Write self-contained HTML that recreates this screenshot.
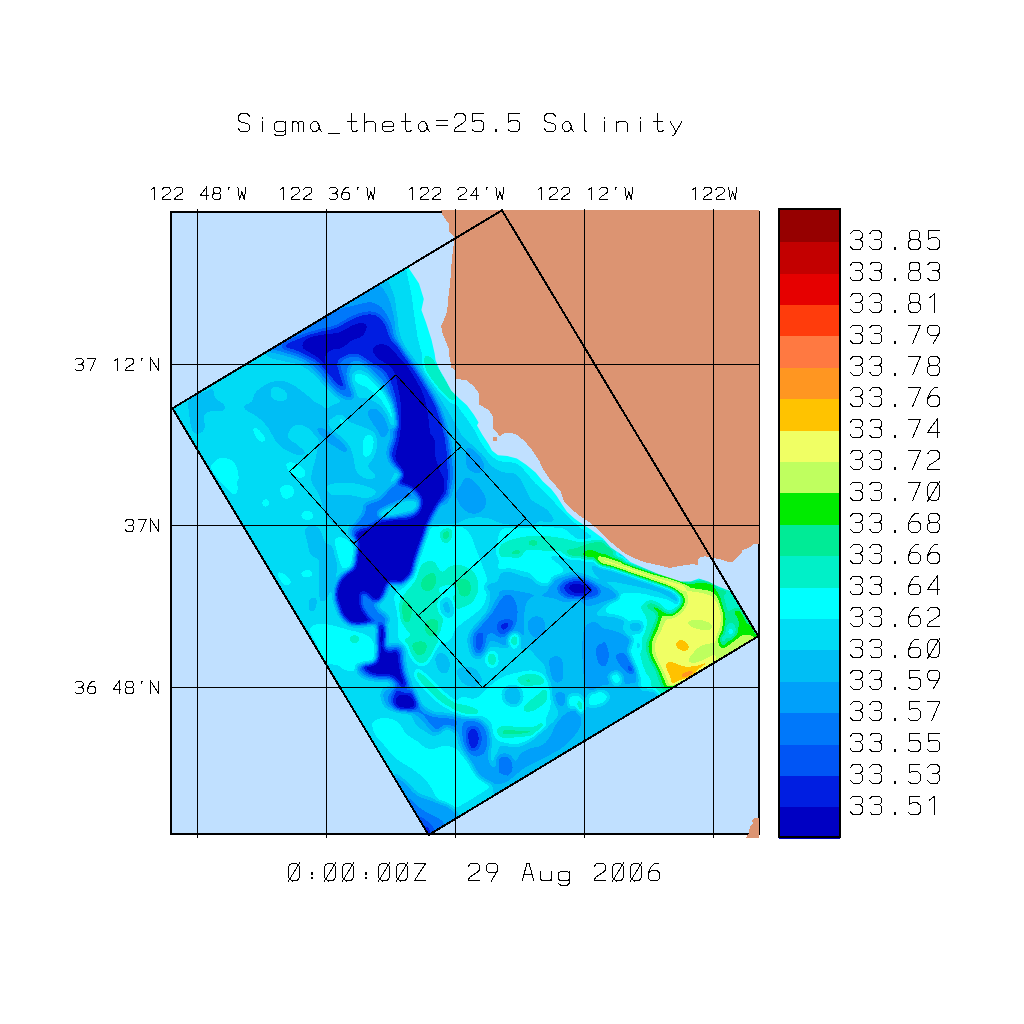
<!DOCTYPE html>
<html><head><meta charset="utf-8"><title>Sigma_theta=25.5 Salinity</title>
<style>html,body{margin:0;padding:0;background:#fff;font-family:"Liberation Sans",sans-serif}svg{display:block}</style></head><body>
<svg width="1024" height="1024" viewBox="0 0 1024 1024" shape-rendering="crispEdges">
<defs>
<filter id="cf" filterUnits="userSpaceOnUse" x="120" y="160" width="700" height="720" color-interpolation-filters="sRGB">
<feGaussianBlur stdDeviation="2.2"/>
<feComponentTransfer><feFuncR type="discrete" tableValues="0.0000 0.0000 0.0000 0.0000 0.0000 0.0000 0.0000 0.0000 0.0000 0.0000 0.0000 0.7490 0.9412 1.0000 1.0000 1.0000 1.0000 0.9020 0.7647 0.5882"/><feFuncG type="discrete" tableValues="0.0000 0.1176 0.3333 0.4706 0.6275 0.7451 0.8627 1.0000 0.9412 0.9216 0.9216 1.0000 1.0000 0.7647 0.5882 0.4745 0.2353 0.0000 0.0000 0.0000"/><feFuncB type="discrete" tableValues="0.7647 0.8824 0.9608 0.9804 0.9804 0.9608 0.9608 1.0000 0.7843 0.5882 0.0000 0.3725 0.3922 0.0000 0.1294 0.2549 0.0471 0.0000 0.0000 0.0000"/></feComponentTransfer>
</filter>
<clipPath id="dc"><path d="M172.5 408.3 L408.0 267.0 L419.0 283.4 L423.8 299.0 L421.4 310.0 L426.0 322.5 L431.5 339.7 L434.7 353.8 L435.5 360.0 L439.5 369.4 L445.8 380.3 L451.2 390.5 L459.8 399.0 L466.9 405.3 L473.9 414.7 L478.6 422.5 L477.0 425.6 L482.5 435.0 L488.8 444.4 L491.9 450.6 L498.0 455.3 L507.5 456.0 L516.9 458.4 L526.2 464.7 L535.6 472.5 L542.7 481.2 L551.2 489.0 L556.7 496.0 L562.2 504.7 L566.9 511.7 L574.7 518.8 L582.5 524.2 L591.2 529.8 L603.0 538.6 L610.8 547.4 L622.5 555.2 L630.3 562.0 L644.0 567.9 L657.7 573.8 L669.4 577.7 L681.0 581.6 L690.9 581.6 L698.7 578.6 L708.4 581.6 L716.2 585.5 L726.0 589.4 L731.9 591.3 L758.3 636.2 L428.6 835.0 Z"/></clipPath>
<clipPath id="fr"><rect x="170" y="210" width="590" height="628"/></clipPath>
</defs>
<rect width="1024" height="1024" fill="#fff"/>
<rect x="171" y="212" width="588" height="622" fill="#c0e0ff"/>
<g clip-path="url(#dc)"><g filter="url(#cf)">
<rect x="120" y="160" width="700" height="720" fill="#535353"/>
<path d="M272.0 388.9 C273.3 387.6 277.3 386.0 279.8 387.0 C282.2 387.9 285.6 392.5 286.6 394.8 C287.6 397.0 287.1 400.0 285.6 400.6 C284.2 401.3 280.1 399.6 277.8 398.7 C275.5 397.7 272.9 396.4 272.0 394.8 C271.0 393.1 270.7 390.2 272.0 388.9 Z" fill="#606060"/>
<path d="M189.5 397.7 C192.1 393.4 201.2 393.4 205.2 391.8 C209.1 390.2 211.3 386.9 213.0 387.9 C214.6 388.9 213.0 394.7 214.9 397.7 C216.9 400.6 223.4 403.2 224.7 405.5 C226.0 407.7 225.3 410.4 222.7 411.3 C220.1 412.3 212.3 410.4 209.1 411.3 C205.8 412.3 203.9 414.6 203.2 417.2 C202.6 419.8 205.5 424.3 205.2 427.0 C204.8 429.6 203.2 431.8 201.2 432.8 C199.3 433.8 195.4 435.4 193.4 432.8 C191.5 430.2 190.2 423.0 189.5 417.2 C188.9 411.3 186.9 401.9 189.5 397.7 Z" fill="#464646"/>
<path d="M242.3 406.4 C242.9 404.8 249.8 404.0 252.0 401.6 C254.3 399.1 252.7 395.1 255.9 391.8 C259.2 388.5 266.4 383.7 271.6 382.0 C276.8 380.4 282.0 380.4 287.2 382.0 C292.4 383.7 298.3 388.5 302.8 391.8 C307.4 395.1 310.6 398.6 314.5 401.6 C318.4 404.5 324.3 405.5 326.2 409.4 C328.2 413.3 324.6 420.4 326.2 425.0 C327.9 429.6 332.8 433.5 336.0 436.7 C339.3 440.0 343.8 441.6 345.8 444.5 C347.7 447.5 349.0 452.7 347.7 454.3 C346.4 455.9 341.5 455.9 338.0 454.3 C334.4 452.7 329.8 447.5 326.2 444.5 C322.7 441.6 319.7 439.6 316.5 436.7 C313.2 433.8 310.3 428.9 306.7 427.0 C303.1 425.0 298.3 423.4 295.0 425.0 C291.7 426.6 286.9 433.5 287.2 436.7 C287.5 440.0 293.7 441.6 297.0 444.5 C300.2 447.5 307.0 452.7 306.7 454.3 C306.4 455.9 298.9 455.3 295.0 454.3 C291.1 453.3 286.5 450.7 283.3 448.4 C280.0 446.2 278.1 444.2 275.5 440.6 C272.9 437.0 270.6 430.9 267.7 427.0 C264.7 423.0 261.1 419.8 257.9 417.2 C254.6 414.6 250.7 413.1 248.1 411.3 C245.5 409.5 241.6 408.1 242.3 406.4 Z" fill="#464646"/>
<path d="M270.6 391.8 C271.1 390.0 273.0 386.9 275.5 386.9 C277.9 386.9 283.3 389.8 285.2 391.8 C287.2 393.8 288.2 397.2 287.2 398.6 C286.2 400.1 281.8 400.7 279.4 400.6 C276.9 400.4 274.0 399.1 272.5 397.7 C271.1 396.2 270.1 393.6 270.6 391.8 Z" fill="#575757"/>
<path d="M252.0 427.0 C252.4 425.7 255.6 427.0 257.9 428.9 C260.2 430.9 265.1 436.4 265.7 438.7 C266.4 441.0 263.4 442.9 261.8 442.6 C260.2 442.3 257.6 439.3 255.9 436.7 C254.3 434.1 251.7 428.3 252.0 427.0 Z" fill="#606060"/>
<path d="M214.9 460.2 C216.5 458.1 225.0 457.6 228.6 458.6 C232.2 459.6 234.8 462.3 236.4 466.0 C238.0 469.7 239.3 478.9 238.4 480.7 C237.4 482.5 233.8 478.4 230.5 476.8 C227.3 475.1 221.4 473.7 218.8 470.9 C216.2 468.1 213.3 462.2 214.9 460.2 Z" fill="#606060"/>
<path d="M435.2 436.1 C438.5 430.2 453.5 433.5 460.6 436.1 C467.8 438.7 471.7 446.5 478.2 451.7 C484.7 456.9 492.9 462.8 499.7 467.3 C506.5 471.9 513.4 474.5 519.2 479.1 C525.1 483.6 532.2 486.5 534.8 494.7 C537.4 502.8 540.1 523.0 534.8 527.9 C529.6 532.8 511.4 525.6 503.6 524.0 C495.8 522.4 493.8 519.1 488.0 518.1 C482.1 517.1 473.6 517.1 468.4 518.1 C463.2 519.1 461.3 522.7 456.7 524.0 C452.2 525.3 445.7 525.9 441.1 525.9 C436.5 525.9 430.0 527.2 429.4 524.0 C428.7 520.7 434.6 511.9 437.2 506.4 C439.8 500.9 444.3 496.6 445.0 490.8 C445.7 484.9 442.7 480.4 441.1 471.2 C439.5 462.1 432.0 442.0 435.2 436.1 Z" fill="#464646"/>
<path d="M454.8 481.0 C456.7 477.4 463.9 475.5 468.4 477.1 C473.0 478.7 479.2 486.2 482.1 490.8 C485.0 495.3 487.0 500.5 486.0 504.5 C485.0 508.4 479.8 513.2 476.2 514.2 C472.7 515.2 467.8 512.9 464.5 510.3 C461.3 507.7 458.3 503.5 456.7 498.6 C455.1 493.7 452.8 484.6 454.8 481.0 Z" fill="#393939"/>
<path d="M460.6 449.8 C461.3 446.2 468.4 445.5 472.3 447.8 C476.2 450.1 482.8 459.2 484.1 463.4 C485.4 467.7 482.8 472.2 480.2 473.2 C477.6 474.2 471.7 473.2 468.4 469.3 C465.2 465.4 460.0 453.3 460.6 449.8 Z" fill="#393939"/>
<path d="M429.4 525.9 C434.6 524.3 450.2 525.0 456.7 525.9 C463.2 526.9 465.2 527.9 468.4 531.8 C471.7 535.7 474.0 543.8 476.2 549.4 C478.5 554.9 480.2 559.1 482.1 565.0 C484.1 570.9 487.6 578.0 488.0 584.5 C488.3 591.0 486.7 598.9 484.1 604.1 C481.5 609.3 476.9 611.9 472.3 615.8 C467.8 619.7 461.3 622.9 456.7 627.5 C452.2 632.1 454.1 640.5 445.0 643.1 C435.9 645.7 409.8 647.7 402.0 643.1 C394.2 638.6 399.4 623.6 398.1 615.8 C396.8 608.0 393.6 600.8 394.2 596.2 C394.9 591.7 399.1 591.7 402.0 588.4 C405.0 585.2 408.9 582.6 411.8 576.7 C414.7 570.9 417.3 560.1 419.6 553.3 C421.9 546.4 423.8 540.3 425.5 535.7 C427.1 531.1 424.2 527.6 429.4 525.9 Z" fill="#606060"/>
<path d="M421.6 565.0 C424.5 561.7 430.0 559.8 433.3 561.1 C436.5 562.4 438.5 571.8 441.1 572.8 C443.7 573.8 445.7 568.3 448.9 567.0 C452.2 565.7 456.4 564.0 460.6 565.0 C464.9 566.0 471.4 568.9 474.3 572.8 C477.2 576.7 478.5 583.6 478.2 588.4 C477.9 593.3 475.3 598.9 472.3 602.1 C469.4 605.4 464.9 605.7 460.6 608.0 C456.4 610.2 450.5 612.5 447.0 615.8 C443.4 619.0 442.1 624.2 439.1 627.5 C436.2 630.8 433.9 634.0 429.4 635.3 C424.8 636.6 416.4 637.9 411.8 635.3 C407.2 632.7 404.0 624.9 402.0 619.7 C400.1 614.5 399.4 608.6 400.1 604.1 C400.7 599.5 403.3 596.2 405.9 592.3 C408.5 588.4 413.1 585.2 415.7 580.6 C418.3 576.1 418.6 568.3 421.6 565.0 Z" fill="#6c6c6c"/>
<path d="M426.4 574.8 C428.7 573.0 432.6 571.5 434.3 572.8 C435.9 574.1 436.7 579.6 436.2 582.6 C435.7 585.5 433.4 589.1 431.3 590.4 C429.2 591.7 425.3 591.5 423.5 590.4 C421.7 589.3 420.1 586.2 420.6 583.6 C421.1 581.0 424.2 576.6 426.4 574.8 Z" fill="#797979"/>
<path d="M457.7 579.6 C459.5 578.3 465.2 578.2 467.5 579.6 C469.7 581.1 471.4 585.7 471.4 588.4 C471.4 591.2 469.4 595.1 467.5 596.2 C465.5 597.4 461.4 596.7 459.6 595.3 C457.9 593.8 457.0 590.1 456.7 587.5 C456.4 584.9 455.9 581.0 457.7 579.6 Z" fill="#797979"/>
<path d="M402.0 602.1 C403.0 598.9 406.3 598.5 407.9 600.2 C409.5 601.8 411.8 608.0 411.8 611.9 C411.8 615.8 409.5 622.3 407.9 623.6 C406.3 624.9 403.0 623.3 402.0 619.7 C401.1 616.1 401.1 605.4 402.0 602.1 Z" fill="#797979"/>
<path d="M425.5 621.6 C427.4 619.7 434.9 618.1 437.2 619.7 C439.5 621.3 440.1 628.5 439.1 631.4 C438.2 634.3 433.6 637.3 431.3 637.3 C429.0 637.3 426.4 634.0 425.5 631.4 C424.5 628.8 423.5 623.6 425.5 621.6 Z" fill="#797979"/>
<path d="M441.1 533.8 C441.7 531.5 447.3 528.5 448.9 528.9 C450.5 529.2 451.5 533.4 450.9 535.7 C450.2 538.0 446.6 542.9 445.0 542.5 C443.4 542.2 440.4 536.0 441.1 533.8 Z" fill="#797979"/>
<path d="M491.9 588.4 C495.1 584.5 502.3 587.1 507.5 588.4 C512.7 589.7 520.5 587.1 523.1 596.2 C525.7 605.4 531.6 635.3 523.1 643.1 C514.7 650.9 480.2 645.7 472.3 643.1 C464.5 640.5 473.6 632.7 476.2 627.5 C478.9 622.3 485.4 618.4 488.0 611.9 C490.6 605.4 488.6 592.3 491.9 588.4 Z" fill="#464646"/>
<path d="M329.8 440.0 C332.0 438.4 342.5 438.0 345.4 440.0 C348.3 442.0 348.3 449.1 347.3 451.7 C346.4 454.3 342.1 456.0 339.5 455.6 C336.9 455.3 333.3 452.4 331.7 449.8 C330.1 447.2 327.5 441.6 329.8 440.0 Z" fill="#464646"/>
<path d="M355.2 467.3 C357.1 464.4 363.9 461.8 368.8 461.5 C373.7 461.2 382.2 462.5 384.5 465.4 C386.7 468.3 385.1 476.1 382.5 479.1 C379.9 482.0 373.1 483.0 368.8 483.0 C364.6 483.0 359.4 481.7 357.1 479.1 C354.8 476.5 353.2 470.3 355.2 467.3 Z" fill="#464646"/>
<path d="M331.7 504.5 C334.0 502.2 341.8 498.6 347.3 498.6 C352.9 498.6 360.7 501.8 364.9 504.5 C369.2 507.1 373.7 511.9 372.7 514.2 C371.8 516.5 363.9 517.8 359.1 518.1 C354.2 518.5 347.7 517.1 343.4 516.2 C339.2 515.2 335.6 514.2 333.7 512.3 C331.7 510.3 329.4 506.7 331.7 504.5 Z" fill="#464646"/>
<path d="M359.1 440.0 C362.0 438.0 374.4 438.0 378.6 440.0 C382.8 442.0 384.5 447.5 384.5 451.7 C384.5 456.0 381.5 463.8 378.6 465.4 C375.7 467.0 369.8 463.8 366.9 461.5 C363.9 459.2 362.3 455.3 361.0 451.7 C359.7 448.1 356.1 442.0 359.1 440.0 Z" fill="#606060"/>
<path d="M323.9 484.9 C326.5 482.8 336.0 481.7 343.4 482.0 C350.9 482.3 364.3 485.1 368.8 486.9 C373.4 488.7 374.0 491.1 370.8 492.7 C367.5 494.4 356.5 496.3 349.3 496.6 C342.1 497.0 332.0 496.6 327.8 494.7 C323.6 492.7 321.3 487.0 323.9 484.9 Z" fill="#606060"/>
<path d="M335.6 537.7 C336.9 535.4 342.5 539.6 345.4 541.6 C348.3 543.5 352.2 546.1 353.2 549.4 C354.2 552.6 352.9 558.5 351.2 561.1 C349.6 563.7 345.7 566.0 343.4 565.0 C341.2 564.0 338.9 559.8 337.6 555.2 C336.3 550.7 334.3 539.9 335.6 537.7 Z" fill="#606060"/>
<path d="M320.0 549.4 C322.0 540.3 328.8 544.2 331.7 545.5 C334.6 546.8 336.9 552.0 337.6 557.2 C338.2 562.4 337.3 570.2 335.6 576.7 C334.0 583.2 330.4 592.3 327.8 596.2 C325.2 600.2 321.3 608.0 320.0 600.2 C318.7 592.3 318.0 558.5 320.0 549.4 Z" fill="#464646"/>
<path d="M529.3 477.1 C530.3 476.5 536.1 478.4 539.1 481.0 C542.0 483.6 546.5 490.8 546.9 492.7 C547.2 494.7 543.3 494.0 541.0 492.7 C538.7 491.4 535.2 487.5 533.2 484.9 C531.2 482.3 528.3 477.8 529.3 477.1 Z" fill="#6c6c6c"/>
<path d="M498.0 473.2 C501.0 468.8 510.1 470.3 515.6 472.2 C521.2 474.2 526.4 480.2 531.2 484.9 C536.1 489.6 540.7 495.3 544.9 500.5 C549.2 505.8 555.3 512.6 556.6 516.2 C557.9 519.8 556.3 521.4 552.7 522.0 C549.2 522.7 540.7 521.4 535.2 520.1 C529.6 518.8 524.1 516.8 519.5 514.2 C515.0 511.6 511.4 507.1 507.8 504.5 C504.2 501.8 499.7 503.8 498.0 498.6 C496.4 493.4 495.1 477.6 498.0 473.2 Z" fill="#464646"/>
<path d="M500.0 531.8 C503.3 525.9 509.8 526.6 519.5 525.9 C529.3 525.3 548.2 526.9 558.6 527.9 C569.0 528.9 574.9 529.2 582.0 531.8 C589.2 534.4 595.7 539.6 601.6 543.5 C607.4 547.4 617.8 552.3 617.2 555.2 C616.5 558.2 606.4 560.8 597.7 561.1 C588.9 561.4 575.8 558.2 564.5 557.2 C553.1 556.2 540.0 554.6 529.3 555.2 C518.6 555.9 504.9 565.0 500.0 561.1 C495.1 557.2 496.7 537.7 500.0 531.8 Z" fill="#606060"/>
<path d="M500.0 545.5 C503.3 542.2 513.0 539.3 519.5 537.7 C526.0 536.0 532.6 535.7 539.1 535.7 C545.6 535.7 552.1 536.7 558.6 537.7 C565.1 538.6 572.6 541.2 578.1 541.6 C583.7 541.9 587.2 539.3 591.8 539.6 C596.4 539.9 601.2 541.2 605.5 543.5 C609.7 545.8 617.8 551.0 617.2 553.3 C616.5 555.6 607.1 556.5 601.6 557.2 C596.0 557.8 590.2 558.2 584.0 557.2 C577.8 556.2 570.3 552.3 564.5 551.3 C558.6 550.4 554.7 551.7 548.8 551.3 C543.0 551.0 535.5 548.7 529.3 549.4 C523.1 550.0 516.6 553.9 511.7 555.2 C506.8 556.5 502.0 558.8 500.0 557.2 C498.0 555.6 496.7 548.7 500.0 545.5 Z" fill="#6c6c6c"/>
<path d="M564.5 551.3 C565.8 549.7 573.6 549.0 578.1 547.4 C582.7 545.8 587.9 542.9 591.8 541.6 C595.7 540.3 598.6 539.0 601.6 539.6 C604.5 540.3 606.8 543.2 609.4 545.5 C612.0 547.7 618.5 551.7 617.2 553.3 C615.9 554.9 607.1 554.6 601.6 555.2 C596.0 555.9 589.2 556.9 584.0 557.2 C578.8 557.5 573.6 558.2 570.3 557.2 C567.1 556.2 563.2 553.0 564.5 551.3 Z" fill="#797979"/>
<path d="M510.7 551.7 C512.2 550.7 518.7 549.8 520.5 550.4 C522.3 550.9 522.9 554.3 521.5 555.2 C520.0 556.2 513.5 556.8 511.7 556.2 C509.9 555.6 509.3 552.7 510.7 551.7 Z" fill="#797979"/>
<path d="M529.3 541.2 C530.6 540.6 535.8 540.6 537.1 541.2 C538.4 541.7 538.4 543.9 537.1 544.5 C535.8 545.0 530.6 545.0 529.3 544.5 C528.0 543.9 528.0 541.7 529.3 541.2 Z" fill="#808080"/>
<path d="M584.0 551.3 C585.9 550.4 590.8 549.7 593.8 550.4 C596.7 551.0 597.7 554.1 601.6 555.2 C605.5 556.4 613.3 556.2 617.2 557.2 C621.1 558.2 626.3 560.3 625.0 561.1 C623.7 561.9 614.6 562.4 609.4 562.1 C604.2 561.7 597.7 559.6 593.8 559.1 C589.8 558.7 587.9 559.6 585.9 559.1 C584.0 558.7 582.4 557.5 582.0 556.2 C581.7 554.9 582.0 552.3 584.0 551.3 Z" fill="#868686"/>
<path d="M500.0 561.1 C503.3 558.8 513.0 558.2 519.5 557.2 C526.0 556.2 533.2 554.6 539.1 555.2 C544.9 555.9 550.5 558.2 554.7 561.1 C558.9 564.0 565.4 570.2 564.5 572.8 C563.5 575.4 554.7 576.7 548.8 576.7 C543.0 576.7 535.5 574.1 529.3 572.8 C523.1 571.5 516.6 569.2 511.7 568.9 C506.8 568.6 502.0 572.2 500.0 570.9 C498.0 569.6 496.7 563.4 500.0 561.1 Z" fill="#606060"/>
<path d="M500.0 574.8 C503.9 563.7 516.3 575.7 523.4 576.7 C530.6 577.7 537.1 580.6 543.0 580.6 C548.8 580.6 552.7 578.0 558.6 576.7 C564.5 575.4 571.6 572.2 578.1 572.8 C584.6 573.5 591.8 578.0 597.7 580.6 C603.5 583.2 611.3 584.9 613.3 588.4 C615.2 592.0 612.6 597.6 609.4 602.1 C606.1 606.7 598.3 608.9 593.8 615.8 C589.2 622.6 597.7 638.6 582.0 643.1 C566.4 647.7 513.7 654.5 500.0 643.1 C486.3 631.7 496.1 585.8 500.0 574.8 Z" fill="#464646"/>
<path d="M500.0 588.4 C502.6 578.7 510.4 583.9 515.6 584.5 C520.8 585.2 526.4 591.4 531.2 592.3 C536.1 593.3 540.4 593.0 544.9 590.4 C549.5 587.8 553.1 579.3 558.6 576.7 C564.1 574.1 571.6 573.8 578.1 574.8 C584.6 575.7 592.4 580.0 597.7 582.6 C602.9 585.2 608.1 587.5 609.4 590.4 C610.7 593.3 608.7 597.6 605.5 600.2 C602.2 602.8 596.4 605.0 589.8 606.0 C583.3 607.0 571.6 604.4 566.4 606.0 C561.2 607.6 561.2 612.2 558.6 615.8 C556.0 619.4 554.0 624.2 550.8 627.5 C547.5 630.8 544.3 632.7 539.1 635.3 C533.9 637.9 526.0 641.8 519.5 643.1 C513.0 644.4 503.3 652.2 500.0 643.1 C496.7 634.0 497.4 598.2 500.0 588.4 Z" fill="#393939"/>
<path d="M503.9 596.2 C506.2 593.6 512.7 591.0 515.6 592.3 C518.6 593.6 521.2 600.2 521.5 604.1 C521.8 608.0 519.9 613.8 517.6 615.8 C515.3 617.7 510.4 617.1 507.8 615.8 C505.2 614.5 502.6 611.2 502.0 608.0 C501.3 604.7 501.6 598.9 503.9 596.2 Z" fill="#2d2d2d"/>
<path d="M533.2 615.8 C535.2 613.8 540.7 612.5 543.0 613.8 C545.2 615.1 547.5 620.7 546.9 623.6 C546.2 626.5 541.7 631.1 539.1 631.4 C536.5 631.7 532.2 628.2 531.2 625.5 C530.3 622.9 531.2 617.7 533.2 615.8 Z" fill="#2d2d2d"/>
<path d="M558.6 588.4 C559.2 586.2 562.5 582.3 566.4 580.6 C570.3 579.0 576.8 577.4 582.0 578.7 C587.2 580.0 594.7 585.8 597.7 588.4 C600.6 591.0 601.6 592.7 599.6 594.3 C597.7 595.9 590.8 597.6 585.9 598.2 C581.1 598.9 574.2 598.9 570.3 598.2 C566.4 597.6 564.5 595.9 562.5 594.3 C560.5 592.7 557.9 590.7 558.6 588.4 Z" fill="#1a1a1a"/>
<path d="M567.4 586.5 C567.7 584.7 571.5 582.9 574.2 582.6 C577.0 582.3 581.5 583.4 584.0 584.5 C586.4 585.7 589.2 587.8 588.9 589.4 C588.5 591.0 584.8 593.6 582.0 594.3 C579.3 594.9 574.7 594.6 572.3 593.3 C569.8 592.0 567.1 588.3 567.4 586.5 Z" fill="#060606"/>
<path d="M496.1 619.7 C498.0 617.2 504.9 618.1 507.8 618.7 C510.7 619.4 513.7 621.5 513.7 623.6 C513.7 625.7 510.7 629.8 507.8 631.4 C504.9 633.0 498.0 635.3 496.1 633.4 C494.1 631.4 494.1 622.1 496.1 619.7 Z" fill="#131313"/>
<path d="M529.3 565.0 C531.6 563.0 541.0 561.7 544.9 563.0 C548.8 564.3 552.1 569.2 552.7 572.8 C553.4 576.4 551.4 582.9 548.8 584.5 C546.2 586.2 540.0 584.2 537.1 582.6 C534.2 581.0 532.6 577.7 531.2 574.8 C529.9 571.8 527.0 567.0 529.3 565.0 Z" fill="#606060"/>
<path d="M591.8 565.0 C593.8 563.4 601.9 565.3 609.4 567.0 C616.9 568.6 628.3 572.2 636.7 574.8 C645.2 577.4 654.0 579.6 660.2 582.6 C666.3 585.5 671.9 589.7 673.8 592.3 C675.8 594.9 674.8 598.5 671.9 598.2 C668.9 597.9 662.1 592.7 656.2 590.4 C650.4 588.1 643.2 586.2 636.7 584.5 C630.2 582.9 623.7 581.9 617.2 580.6 C610.7 579.3 601.9 579.3 597.7 576.7 C593.4 574.1 589.8 566.6 591.8 565.0 Z" fill="#464646"/>
<path d="M617.2 596.2 C619.1 594.3 630.2 594.0 636.7 594.3 C643.2 594.6 650.4 596.9 656.2 598.2 C662.1 599.5 668.6 600.5 671.9 602.1 C675.1 603.7 676.4 606.3 675.8 608.0 C675.1 609.6 672.5 611.9 668.0 611.9 C663.4 611.9 655.6 608.9 648.4 608.0 C641.3 607.0 630.2 608.0 625.0 606.0 C619.8 604.1 615.2 598.2 617.2 596.2 Z" fill="#6c6c6c"/>
<path d="M605.5 606.0 C607.7 604.4 615.9 603.7 621.1 604.1 C626.3 604.4 634.4 606.0 636.7 608.0 C639.0 609.9 638.0 614.5 634.8 615.8 C631.5 617.1 621.7 616.1 617.2 615.8 C612.6 615.5 609.4 615.5 607.4 613.8 C605.5 612.2 603.2 607.6 605.5 606.0 Z" fill="#606060"/>
<path d="M587.9 619.7 C590.2 617.7 598.6 616.4 601.6 617.7 C604.5 619.0 606.1 624.9 605.5 627.5 C604.8 630.1 600.6 633.0 597.7 633.4 C594.7 633.7 589.5 631.7 587.9 629.5 C586.3 627.2 585.6 621.6 587.9 619.7 Z" fill="#464646"/>
<path d="M628.9 621.6 C630.5 619.7 637.7 618.7 640.6 619.7 C643.6 620.7 646.5 624.9 646.5 627.5 C646.5 630.1 643.2 634.7 640.6 635.3 C638.0 636.0 632.8 633.7 630.9 631.4 C628.9 629.1 627.3 623.6 628.9 621.6 Z" fill="#464646"/>
<path d="M595.7 556.8 C597.7 557.3 604.2 557.8 609.4 559.1 C614.6 560.5 620.4 562.7 627.0 565.0 C633.5 567.3 641.9 570.2 648.4 572.8 C654.9 575.4 660.2 578.0 666.0 580.6 C671.9 583.2 677.4 585.8 683.6 588.4 C689.8 591.0 699.9 597.6 703.1 596.2 C706.4 594.9 705.7 582.9 703.1 580.6 C700.5 578.3 692.7 583.2 687.5 582.6 C682.3 581.9 677.1 578.3 671.9 576.7 C666.7 575.1 662.1 574.4 656.2 572.8 C650.4 571.2 643.2 568.9 636.7 567.0 C630.2 565.0 623.7 562.9 617.2 561.1 C610.7 559.3 601.2 556.9 597.7 556.2 C594.1 555.5 593.8 556.3 595.7 556.8 Z" fill="#939393"/>
<path d="M600.0 569.7 C602.6 568.6 609.1 571.2 615.6 572.8 C622.1 574.4 631.8 577.0 639.1 579.1 C646.4 581.1 653.4 583.0 659.4 585.3 C665.4 587.7 671.6 590.5 675.0 593.1 C678.4 595.7 679.7 599.4 679.7 600.9 C679.7 602.5 677.3 603.5 675.0 602.5 C672.7 601.5 669.5 596.8 665.6 594.7 C661.7 592.6 657.3 591.6 651.6 590.0 C645.8 588.4 637.2 586.6 631.2 585.3 C625.3 584.0 620.8 583.2 615.6 582.2 C610.4 581.1 602.6 581.1 600.0 579.1 C597.4 577.0 597.4 570.7 600.0 569.7 Z" fill="#464646"/>
<path d="M600.0 586.9 C601.6 585.3 606.2 587.1 609.4 588.4 C612.5 589.7 617.7 592.3 618.8 594.7 C619.8 597.0 617.7 601.5 615.6 602.5 C613.5 603.5 608.9 601.7 606.2 600.9 C603.6 600.2 601.0 600.2 600.0 597.8 C599.0 595.5 598.4 588.4 600.0 586.9 Z" fill="#393939"/>
<path d="M623.4 602.5 C625.5 600.9 633.9 598.1 639.1 597.8 C644.3 597.6 649.5 599.6 654.7 600.9 C659.9 602.2 666.9 604.1 670.3 605.6 C673.7 607.2 675.3 609.0 675.0 610.3 C674.7 611.6 672.1 613.7 668.8 613.4 C665.4 613.2 659.6 610.1 654.7 608.8 C649.7 607.4 643.8 605.9 639.1 605.6 C634.4 605.4 629.2 607.7 626.6 607.2 C624.0 606.7 621.4 604.1 623.4 602.5 Z" fill="#606060"/>
<path d="M628.1 624.4 C629.2 622.6 635.0 620.7 637.5 621.2 C640.0 621.8 642.7 625.4 643.0 627.5 C643.2 629.6 641.0 633.0 639.1 633.8 C637.1 634.5 633.1 633.8 631.2 632.2 C629.4 630.6 627.1 626.2 628.1 624.4 Z" fill="#464646"/>
<path d="M596.9 633.8 C599.5 629.1 607.8 634.8 612.5 636.9 C617.2 639.0 620.8 643.1 625.0 646.2 C629.2 649.4 634.6 652.0 637.5 655.6 C640.4 659.3 641.9 664.0 642.2 668.1 C642.4 672.3 640.9 677.5 639.1 680.6 C637.2 683.8 634.6 686.4 631.2 686.9 C627.9 687.4 622.4 685.8 618.8 683.8 C615.1 681.7 613.0 677.5 609.4 674.4 C605.7 671.2 599.0 671.8 596.9 665.0 C594.8 658.2 594.3 638.4 596.9 633.8 Z" fill="#393939"/>
<path d="M614.1 652.5 C615.6 650.9 621.4 652.5 625.0 654.1 C628.6 655.6 633.9 658.8 635.9 661.9 C638.0 665.0 638.3 670.2 637.5 672.8 C636.7 675.4 633.9 677.5 631.2 677.5 C628.6 677.5 624.5 675.2 621.9 672.8 C619.3 670.5 616.9 666.8 615.6 663.4 C614.3 660.1 612.5 654.1 614.1 652.5 Z" fill="#2d2d2d"/>
<path d="M627.8 666.9 C628.4 666.2 630.9 666.2 631.6 666.9 C632.2 667.6 632.2 670.3 631.6 670.9 C630.9 671.6 628.4 671.6 627.8 670.9 C627.2 670.3 627.2 667.6 627.8 666.9 Z" fill="#131313"/>
<path d="M643.8 672.8 C644.9 671.2 648.4 669.4 650.0 671.2 C651.6 673.1 652.9 679.6 653.1 683.8 C653.4 687.9 652.9 694.7 651.6 696.2 C650.3 697.8 646.7 695.7 645.3 693.1 C643.9 690.5 643.2 684.0 643.0 680.6 C642.7 677.2 642.6 674.4 643.8 672.8 Z" fill="#606060"/>
<path d="M372.7 722.0 C374.4 719.4 380.2 718.1 384.5 718.1 C388.7 718.1 394.5 719.4 398.1 722.0 C401.7 724.6 402.7 730.5 405.9 733.8 C409.2 737.0 413.8 739.0 417.7 741.6 C421.6 744.2 424.8 748.7 429.4 749.4 C433.9 750.0 440.4 745.5 445.0 745.5 C449.6 745.5 452.8 746.8 456.7 749.4 C460.6 752.0 464.5 756.5 468.4 761.1 C472.3 765.7 476.2 772.8 480.2 776.7 C484.1 780.6 492.5 781.3 491.9 784.5 C491.2 787.8 482.1 792.3 476.2 796.2 C470.4 800.2 461.9 804.7 456.7 808.0 C451.5 811.2 448.3 817.1 445.0 815.8 C441.7 814.5 439.8 805.4 437.2 800.2 C434.6 794.9 432.6 789.1 429.4 784.5 C426.1 780.0 421.6 776.1 417.7 772.8 C413.8 769.6 409.8 767.6 405.9 765.0 C402.0 762.4 397.8 760.4 394.2 757.2 C390.6 753.9 387.7 749.4 384.5 745.5 C381.2 741.6 376.6 737.7 374.7 733.8 C372.7 729.8 371.1 724.6 372.7 722.0 Z" fill="#606060"/>
<path d="M331.7 651.7 C333.7 649.8 342.8 648.5 347.3 649.8 C351.9 651.1 357.8 656.0 359.1 659.5 C360.4 663.1 357.8 669.6 355.2 671.2 C352.6 672.9 346.7 670.9 343.4 669.3 C340.2 667.7 337.6 664.4 335.6 661.5 C333.7 658.6 329.8 653.7 331.7 651.7 Z" fill="#606060"/>
<path d="M405.9 638.0 C410.8 636.4 432.3 636.1 437.2 638.0 C442.1 640.0 436.5 646.2 435.2 649.8 C433.9 653.3 431.7 656.9 429.4 659.5 C427.1 662.1 424.5 665.7 421.6 665.4 C418.6 665.1 414.1 660.5 411.8 657.6 C409.5 654.6 408.9 651.1 407.9 647.8 C406.9 644.6 401.1 639.7 405.9 638.0 Z" fill="#6c6c6c"/>
<path d="M411.8 643.9 C413.1 641.6 423.2 640.7 425.5 642.0 C427.7 643.3 426.8 649.4 425.5 651.7 C424.2 654.0 419.9 656.9 417.7 655.6 C415.4 654.3 410.5 646.2 411.8 643.9 Z" fill="#797979"/>
<path d="M417.7 669.3 C419.9 669.6 425.5 675.5 429.4 679.1 C433.3 682.6 436.5 686.9 441.1 690.8 C445.7 694.7 451.5 699.6 456.7 702.5 C461.9 705.4 468.4 706.4 472.3 708.4 C476.2 710.3 480.8 712.9 480.2 714.2 C479.5 715.5 473.0 716.8 468.4 716.2 C463.9 715.5 458.0 712.9 452.8 710.3 C447.6 707.7 441.7 704.1 437.2 700.5 C432.6 697.0 429.0 692.7 425.5 688.8 C421.9 684.9 417.0 680.4 415.7 677.1 C414.4 673.9 415.4 669.0 417.7 669.3 Z" fill="#6c6c6c"/>
<path d="M462.6 707.4 C463.7 706.6 468.9 706.7 470.4 707.4 C471.9 708.0 472.5 710.5 471.4 711.3 C470.2 712.0 465.0 712.5 463.6 711.9 C462.1 711.2 461.4 708.1 462.6 707.4 Z" fill="#818181"/>
<path d="M497.7 729.8 C499.2 728.5 503.6 727.1 507.5 726.9 C511.4 726.8 518.9 727.4 521.2 728.9 C523.5 730.3 523.5 734.4 521.2 735.7 C518.9 737.0 511.2 736.8 507.5 736.7 C503.8 736.5 500.3 735.9 498.7 734.7 C497.1 733.6 496.3 731.1 497.7 729.8 Z" fill="#797979"/>
<path d="M435.2 655.6 C436.2 652.7 442.6 652.4 445.0 653.7 C447.4 655.0 449.6 660.2 449.9 663.4 C450.2 666.7 448.7 671.9 447.0 673.2 C445.2 674.5 441.1 674.2 439.1 671.2 C437.2 668.3 434.3 658.6 435.2 655.6 Z" fill="#464646"/>
<path d="M456.7 669.3 C458.3 666.7 468.1 665.7 472.3 667.3 C476.6 669.0 481.5 675.8 482.1 679.1 C482.8 682.3 479.5 686.2 476.2 686.9 C473.0 687.5 465.8 685.9 462.6 683.0 C459.3 680.0 455.1 671.9 456.7 669.3 Z" fill="#464646"/>
<path d="M473.3 638.0 C474.5 635.9 481.5 636.4 483.1 638.0 C484.7 639.7 484.2 645.7 483.1 647.8 C481.9 649.9 477.9 652.4 476.2 650.7 C474.6 649.1 472.2 640.2 473.3 638.0 Z" fill="#202020"/>
<path d="M411.8 712.3 C413.4 711.0 421.2 713.9 425.5 716.2 C429.7 718.5 435.6 722.7 437.2 725.9 C438.8 729.2 437.2 734.7 435.2 735.7 C433.3 736.7 428.7 733.8 425.5 731.8 C422.2 729.8 418.0 727.2 415.7 724.0 C413.4 720.7 410.2 713.6 411.8 712.3 Z" fill="#464646"/>
<path d="M382.5 690.8 C384.8 687.7 392.9 686.2 398.1 685.9 C403.3 685.6 410.2 686.1 413.8 688.8 C417.3 691.6 416.7 698.6 419.6 702.5 C422.5 706.4 427.1 710.3 431.3 712.3 C435.6 714.2 440.8 713.6 445.0 714.2 C449.2 714.9 452.5 714.9 456.7 716.2 C461.0 717.5 465.8 719.4 470.4 722.0 C474.9 724.6 481.0 727.7 484.1 731.8 C487.2 735.9 489.9 742.7 488.9 746.4 C488.0 750.2 482.1 753.8 478.2 754.3 C474.3 754.7 468.6 752.5 465.5 749.4 C462.4 746.3 462.7 739.3 459.6 735.7 C456.6 732.1 450.7 728.2 447.0 727.9 C443.2 727.6 440.3 733.8 437.2 733.8 C434.1 733.8 431.2 730.5 428.4 727.9 C425.6 725.3 423.7 720.7 420.6 718.1 C417.5 715.5 414.2 713.6 409.8 712.3 C405.4 711.0 398.5 711.6 394.2 710.3 C390.0 709.0 386.4 707.7 384.5 704.5 C382.5 701.2 380.2 693.9 382.5 690.8 Z" fill="#393939"/>
<path d="M388.4 694.7 C390.0 692.7 394.4 691.1 398.1 690.8 C401.9 690.5 407.7 690.3 410.8 692.7 C413.9 695.2 413.6 701.7 416.7 705.4 C419.8 709.2 424.7 713.2 429.4 715.2 C434.1 717.1 440.4 716.5 445.0 717.1 C449.6 717.8 452.8 717.8 456.7 719.1 C460.6 720.4 464.4 722.4 468.4 725.0 C472.5 727.6 478.4 731.3 481.1 734.7 C483.9 738.1 485.9 742.9 485.0 745.5 C484.2 748.1 479.2 750.2 476.2 750.4 C473.3 750.5 469.9 749.4 467.5 746.4 C465.0 743.5 465.0 736.4 461.6 732.8 C458.2 729.2 451.0 725.4 447.0 725.0 C442.9 724.5 440.0 730.2 437.2 730.2 C434.4 730.2 432.8 727.5 430.4 725.0 C427.9 722.5 426.0 717.9 422.5 715.2 C419.1 712.5 414.4 710.1 409.8 708.8 C405.3 707.4 398.8 708.4 395.2 707.4 C391.6 706.3 389.5 704.6 388.4 702.5 C387.2 700.4 386.7 696.6 388.4 694.7 Z" fill="#2d2d2d"/>
<path d="M468.4 731.8 C469.9 729.7 474.3 727.9 476.2 728.9 C478.2 729.8 479.8 734.7 480.2 737.7 C480.5 740.6 479.7 744.7 478.2 746.4 C476.7 748.2 473.2 749.2 471.4 748.4 C469.6 747.6 467.9 744.3 467.5 741.6 C467.0 738.8 467.0 733.9 468.4 731.8 Z" fill="#131313"/>
<path d="M398.1 683.0 C400.7 680.7 405.3 683.0 407.9 684.9 C410.5 686.9 412.1 691.1 413.8 694.7 C415.4 698.3 418.6 703.6 417.7 706.4 C416.7 709.2 411.5 711.0 407.9 711.3 C404.3 711.6 398.8 710.5 396.2 708.4 C393.6 706.2 391.9 702.8 392.3 698.6 C392.6 694.4 395.5 685.2 398.1 683.0 Z" fill="#131313"/>
<path d="M394.2 702.5 C394.2 700.4 396.2 697.1 398.1 695.7 C400.1 694.2 403.3 693.2 405.9 693.7 C408.5 694.2 412.1 696.5 413.8 698.6 C415.4 700.7 416.7 704.6 415.7 706.4 C414.7 708.2 410.8 709.0 407.9 709.3 C405.0 709.7 400.4 709.5 398.1 708.4 C395.8 707.2 394.2 704.6 394.2 702.5 Z" fill="#060606"/>
<path d="M357.1 665.4 C358.1 662.1 363.3 658.2 366.9 655.6 C370.5 653.0 375.0 651.4 378.6 649.8 C382.2 648.1 384.5 646.5 388.4 645.9 C392.3 645.2 399.4 643.6 402.0 645.9 C404.6 648.1 403.3 655.3 404.0 659.5 C404.6 663.8 405.0 667.3 405.9 671.2 C406.9 675.2 409.5 679.4 409.8 683.0 C410.2 686.5 409.8 691.8 407.9 692.7 C405.9 693.7 401.1 690.8 398.1 688.8 C395.2 686.9 392.9 682.5 390.3 681.0 C387.7 679.6 385.8 680.4 382.5 680.0 C379.2 679.7 374.4 679.9 370.8 679.1 C367.2 678.2 363.3 677.4 361.0 675.2 C358.7 672.9 356.1 668.6 357.1 665.4 Z" fill="#2d2d2d"/>
<path d="M363.0 665.4 C363.5 663.4 366.4 661.5 368.8 659.5 C371.3 657.6 376.1 657.3 377.6 653.7 C379.2 650.1 377.0 640.7 378.2 638.0 C379.4 635.4 383.5 635.9 384.8 638.0 C386.2 640.2 384.2 648.8 386.4 650.7 C388.6 652.7 395.8 648.3 398.1 649.8 C400.4 651.2 399.4 656.0 400.1 659.5 C400.7 663.1 401.1 667.3 402.0 671.2 C403.0 675.2 405.6 680.0 405.9 683.0 C406.3 685.9 405.3 688.8 404.0 688.8 C402.7 688.8 400.1 684.9 398.1 683.0 C396.2 681.0 394.9 678.2 392.3 677.1 C389.7 676.0 385.8 676.5 382.5 676.1 C379.2 675.8 375.5 676.0 372.7 675.2 C370.0 674.3 367.5 672.9 365.9 671.2 C364.3 669.6 362.5 667.3 363.0 665.4 Z" fill="#060606"/>
<path d="M495.8 757.2 C497.4 754.3 503.9 753.3 507.5 753.3 C511.1 753.3 516.0 754.6 517.3 757.2 C518.6 759.8 517.3 765.7 515.3 768.9 C513.4 772.2 508.5 776.4 505.5 776.7 C502.6 777.0 499.4 774.1 497.7 770.9 C496.1 767.6 494.2 760.1 495.8 757.2 Z" fill="#2d2d2d"/>
<path d="M501.6 763.0 C502.5 761.7 506.4 761.1 507.5 762.1 C508.6 763.0 509.3 767.6 508.5 768.9 C507.7 770.2 503.8 770.9 502.6 769.9 C501.5 768.9 500.8 764.3 501.6 763.0 Z" fill="#202020"/>
<path d="M394.2 774.8 C395.5 772.5 402.0 779.3 405.9 782.6 C409.8 785.8 413.4 791.5 417.7 794.3 C421.9 797.1 425.5 796.9 431.3 799.2 C437.2 801.5 448.6 803.9 452.8 808.0 C457.0 812.0 460.6 818.1 456.7 823.6 C452.8 829.1 435.9 838.9 429.4 841.2 C422.9 843.5 422.9 844.8 417.7 837.3 C412.4 829.8 402.0 806.7 398.1 796.2 C394.2 785.8 392.9 777.0 394.2 774.8 Z" fill="#393939"/>
<path d="M405.9 796.2 C406.9 794.6 413.8 803.1 417.7 806.0 C421.6 808.9 425.5 811.5 429.4 813.8 C433.3 816.1 438.5 817.4 441.1 819.7 C443.7 822.0 447.0 824.2 445.0 827.5 C443.0 830.8 433.3 838.2 429.4 839.2 C425.5 840.2 424.5 837.3 421.6 833.4 C418.6 829.5 414.4 822.0 411.8 815.8 C409.2 809.6 405.0 797.9 405.9 796.2 Z" fill="#2d2d2d"/>
<path d="M417.7 815.8 C418.5 813.7 423.7 818.5 426.4 820.7 C429.2 822.8 433.8 825.5 434.3 828.5 C434.7 831.4 431.5 837.4 429.4 838.2 C427.3 839.1 423.5 837.1 421.6 833.4 C419.6 829.6 416.8 817.9 417.7 815.8 Z" fill="#202020"/>
<path d="M423.5 826.5 C424.0 825.0 428.1 826.4 429.4 827.9 C430.6 829.4 431.4 833.8 430.9 835.3 C430.4 836.8 427.7 838.3 426.4 836.9 C425.2 835.4 423.0 828.0 423.5 826.5 Z" fill="#131313"/>
<path d="M544.9 620.0 C562.2 613.5 631.2 615.1 648.4 620.0 C665.7 624.9 649.1 640.8 648.4 649.3 C647.8 657.8 643.6 664.9 644.5 670.8 C645.5 676.6 650.1 680.5 654.3 684.5 C658.5 688.4 681.0 683.8 669.9 694.2 C658.9 704.6 616.2 729.4 587.9 747.0 C559.6 764.5 514.6 800.0 500.0 799.7 C485.4 799.4 495.1 755.4 500.0 745.0 C504.9 734.6 521.2 740.4 529.3 737.2 C537.4 733.9 543.9 729.4 548.8 725.5 C553.7 721.6 558.6 719.9 558.6 713.8 C558.6 707.6 551.1 697.5 548.8 688.4 C546.5 679.2 545.6 670.5 544.9 659.1 C544.3 647.7 527.7 626.5 544.9 620.0 Z" fill="#464646"/>
<path d="M548.8 631.7 C555.0 626.5 572.6 627.8 584.0 627.8 C595.4 627.8 607.1 628.1 617.2 631.7 C627.3 635.3 640.3 641.5 644.5 649.3 C648.8 657.1 647.1 672.7 642.6 678.6 C638.0 684.5 627.0 683.5 617.2 684.5 C607.4 685.4 593.8 685.4 584.0 684.5 C574.2 683.5 564.8 682.8 558.6 678.6 C552.4 674.4 548.5 666.9 546.9 659.1 C545.2 651.2 542.6 636.9 548.8 631.7 Z" fill="#393939"/>
<path d="M593.8 637.6 C595.7 635.0 601.1 636.9 603.5 639.5 C606.0 642.1 608.1 648.6 608.4 653.2 C608.7 657.8 607.3 664.3 605.5 666.9 C603.7 669.5 599.9 670.8 597.7 668.8 C595.4 666.9 592.4 660.4 591.8 655.2 C591.1 649.9 591.8 640.2 593.8 637.6 Z" fill="#2d2d2d"/>
<path d="M615.2 655.2 C615.9 652.9 621.4 652.2 625.0 653.2 C628.6 654.2 634.1 658.1 636.7 661.0 C639.3 663.9 641.3 668.7 640.6 670.8 C640.0 672.9 636.1 674.4 632.8 673.7 C629.6 673.1 624.0 670.0 621.1 666.9 C618.2 663.8 614.6 657.4 615.2 655.2 Z" fill="#2d2d2d"/>
<path d="M627.9 666.9 C628.5 666.2 631.1 666.2 631.8 666.9 C632.6 667.6 633.0 670.5 632.4 671.2 C631.9 671.9 629.3 671.9 628.5 671.2 C627.8 670.5 627.4 667.6 627.9 666.9 Z" fill="#131313"/>
<path d="M498.0 760.6 C499.7 757.5 505.2 758.3 507.8 759.6 C510.4 761.0 513.3 765.7 513.7 768.4 C514.0 771.2 512.4 774.6 509.8 776.2 C507.2 777.9 500.0 780.8 498.0 778.2 C496.1 775.6 496.4 763.7 498.0 760.6 Z" fill="#2d2d2d"/>
<path d="M566.4 698.1 C567.4 695.2 575.2 693.6 578.1 694.2 C581.1 694.9 583.3 698.8 584.0 702.0 C584.6 705.3 584.0 712.1 582.0 713.8 C580.1 715.4 574.9 714.4 572.3 711.8 C569.7 709.2 565.4 701.1 566.4 698.1 Z" fill="#606060"/>
<path d="M587.9 698.1 C590.2 695.8 598.0 692.3 601.6 692.3 C605.1 692.3 610.0 695.8 609.4 698.1 C608.7 700.4 601.2 704.6 597.7 705.9 C594.1 707.2 589.5 707.2 587.9 705.9 C586.3 704.6 585.6 700.4 587.9 698.1 Z" fill="#606060"/>
<path d="M625.0 623.9 C627.3 622.0 636.7 620.7 640.6 622.0 C644.5 623.3 647.8 628.1 648.4 631.7 C649.1 635.3 646.8 642.1 644.5 643.4 C642.3 644.7 637.7 641.2 634.8 639.5 C631.8 637.9 628.6 636.3 627.0 633.7 C625.3 631.1 622.7 625.9 625.0 623.9 Z" fill="#606060"/>
<path d="M507.8 635.6 C508.8 633.3 513.3 631.1 515.6 631.7 C517.9 632.4 521.2 636.9 521.5 639.5 C521.8 642.1 519.5 646.4 517.6 647.3 C515.6 648.3 511.4 647.3 509.8 645.4 C508.1 643.4 506.8 637.9 507.8 635.6 Z" fill="#606060"/>
<path d="M609.4 674.7 C610.4 672.7 617.0 671.4 619.1 672.7 C621.3 674.0 623.0 680.5 622.1 682.5 C621.1 684.5 615.4 685.8 613.3 684.5 C611.2 683.2 608.4 676.6 609.4 674.7 Z" fill="#606060"/>
<path d="M209.8 463.9 C211.4 462.6 220.8 464.6 225.4 467.8 C229.9 471.1 235.5 478.9 237.1 483.4 C238.7 488.0 237.1 494.5 235.2 495.2 C233.2 495.8 228.6 490.6 225.4 487.3 C222.1 484.1 218.2 479.5 215.6 475.6 C213.0 471.7 208.1 465.2 209.8 463.9 Z" fill="#606060"/>
<path d="M280.1 487.3 C281.4 485.1 289.5 484.1 291.8 485.4 C294.1 486.7 295.1 492.9 293.8 495.2 C292.4 497.4 286.3 500.4 284.0 499.1 C281.7 497.8 278.8 489.6 280.1 487.3 Z" fill="#606060"/>
<path d="M262.5 500.0 C263.3 498.7 267.2 498.1 268.4 499.1 C269.5 500.0 270.1 504.6 269.3 505.9 C268.5 507.2 264.6 507.9 263.5 506.9 C262.3 505.9 261.7 501.3 262.5 500.0 Z" fill="#606060"/>
<path d="M301.6 512.7 C302.9 511.4 309.4 510.8 311.3 511.8 C313.3 512.7 314.6 517.3 313.3 518.6 C312.0 519.9 305.5 520.5 303.5 519.6 C301.6 518.6 300.3 514.0 301.6 512.7 Z" fill="#606060"/>
<path d="M301.6 571.3 C303.0 570.2 309.5 569.5 311.3 570.4 C313.1 571.2 313.8 575.1 312.3 576.2 C310.8 577.4 304.3 578.0 302.5 577.2 C300.7 576.4 300.1 572.5 301.6 571.3 Z" fill="#606060"/>
<path d="M276.2 571.3 C276.5 569.7 283.3 573.3 285.9 575.2 C288.5 577.2 292.1 581.4 291.8 583.0 C291.5 584.7 286.6 587.0 284.0 585.0 C281.4 583.0 275.8 573.0 276.2 571.3 Z" fill="#606060"/>
<path d="M305.5 528.4 C307.1 525.8 313.9 523.8 317.2 526.4 C320.4 529.0 324.0 538.8 325.0 544.0 C326.0 549.2 325.3 555.7 323.0 557.7 C320.8 559.6 313.9 558.3 311.3 555.7 C308.7 553.1 308.4 546.6 307.4 542.0 C306.4 537.5 303.8 531.0 305.5 528.4 Z" fill="#464646"/>
<path d="M309.4 598.7 C310.5 596.4 315.2 595.7 316.2 597.7 C317.2 599.6 316.4 608.1 315.2 610.4 C314.1 612.7 310.4 613.3 309.4 611.4 C308.4 609.4 308.2 601.0 309.4 598.7 Z" fill="#464646"/>
<path d="M334.8 540.1 C336.1 536.8 341.3 536.8 344.5 538.1 C347.8 539.4 352.7 543.3 354.3 547.9 C355.9 552.4 355.9 561.9 354.3 565.5 C352.7 569.0 347.5 570.7 344.5 569.4 C341.6 568.1 338.3 562.5 336.7 557.7 C335.1 552.8 333.5 543.3 334.8 540.1 Z" fill="#606060"/>
<path d="M309.4 628.0 C310.7 624.4 318.5 623.7 325.0 624.1 C331.5 624.4 341.3 628.0 348.4 629.9 C355.6 631.9 363.4 632.9 368.0 635.8 C372.5 638.7 375.1 642.9 375.8 647.5 C376.4 652.1 380.3 660.5 371.9 663.1 C363.4 665.7 334.1 666.1 325.0 663.1 C315.9 660.2 319.8 651.4 317.2 645.5 C314.6 639.7 308.1 631.5 309.4 628.0 Z" fill="#606060"/>
<path d="M350.4 635.8 C351.5 634.6 356.7 634.8 358.2 635.8 C359.7 636.8 360.3 640.5 359.2 641.6 C358.0 642.8 352.8 643.6 351.4 642.6 C349.9 641.6 349.3 636.9 350.4 635.8 Z" fill="#6c6c6c"/>
<path d="M326.9 409.1 C331.0 403.9 339.9 403.1 345.6 401.2 C351.4 399.4 356.6 398.1 361.2 398.1 C365.9 398.1 369.3 398.6 373.8 401.2 C378.2 403.9 384.2 408.5 387.8 413.8 C391.5 419.0 393.8 426.2 395.6 432.5 C397.4 438.8 398.8 445.0 398.8 451.2 C398.8 457.5 397.2 464.8 395.6 470.0 C394.1 475.2 392.0 478.3 389.4 482.5 C386.8 486.7 383.6 490.3 380.0 495.0 C376.4 499.7 371.7 506.5 367.5 510.6 C363.3 514.8 359.7 517.4 355.0 520.0 C350.3 522.6 344.1 526.8 339.4 526.2 C334.7 525.7 330.3 522.1 326.9 516.9 C323.5 511.7 321.7 501.2 319.1 495.0 C316.5 488.8 311.8 485.6 311.2 479.4 C310.7 473.1 314.4 465.3 315.9 457.5 C317.5 449.7 318.8 440.6 320.6 432.5 C322.4 424.4 322.7 414.3 326.9 409.1 Z" fill="#464646"/>
<path d="M611.6 601.2 C615.2 599.3 622.8 597.7 628.8 597.3 C634.7 597.0 641.8 598.1 647.5 598.9 C653.2 599.7 658.7 600.7 663.1 602.0 C667.6 603.3 673.0 605.2 674.1 606.7 C675.1 608.2 672.2 610.7 669.4 610.9 C666.5 611.2 660.5 608.3 656.9 608.3 C653.2 608.3 648.8 609.0 647.5 610.9 C646.2 612.9 649.6 616.4 649.1 620.0 C648.5 623.6 646.2 628.3 644.4 632.5 C642.6 636.7 638.4 640.8 638.1 645.0 C637.9 649.2 641.2 653.3 642.8 657.5 C644.4 661.7 646.7 665.8 647.5 670.0 C648.3 674.2 646.5 679.4 647.5 682.5 C648.5 685.6 654.8 687.7 653.8 688.8 C652.7 689.8 643.9 690.8 641.2 688.8 C638.6 686.7 639.4 680.4 638.1 676.2 C636.8 672.1 635.0 667.9 633.4 663.8 C631.9 659.6 628.8 655.9 628.8 651.2 C628.8 646.6 633.2 640.1 633.4 635.6 C633.7 631.2 632.1 627.6 630.3 624.7 C628.5 621.8 625.4 620.0 622.5 618.4 C619.6 616.9 615.7 616.9 613.1 615.3 C610.5 613.8 607.1 611.4 606.9 609.1 C606.6 606.7 607.9 603.2 611.6 601.2 Z" fill="#606060"/>
<path d="M594.4 637.2 C595.8 635.1 600.1 634.3 602.2 635.6 C604.3 636.9 606.1 641.4 606.9 645.0 C607.7 648.6 607.7 654.1 606.9 657.5 C606.1 660.9 604.0 664.8 602.2 665.3 C600.4 665.8 597.4 663.5 595.9 660.6 C594.5 657.8 593.9 652.0 593.6 648.1 C593.3 644.2 592.9 639.3 594.4 637.2 Z" fill="#2d2d2d"/>
<path d="M589.7 693.4 C591.8 691.6 597.5 690.1 600.6 690.3 C603.8 690.6 607.7 692.9 608.4 695.0 C609.2 697.1 607.7 701.0 605.3 702.8 C603.0 704.6 597.2 706.2 594.4 705.9 C591.5 705.7 588.9 703.3 588.1 701.2 C587.3 699.2 587.6 695.3 589.7 693.4 Z" fill="#606060"/>
<path d="M578.0 702.8 C578.5 701.2 581.1 700.7 581.9 702.0 C582.7 703.3 583.2 709.1 582.7 710.6 C582.1 712.2 579.5 712.7 578.8 711.4 C578.0 710.1 577.4 704.4 578.0 702.8 Z" fill="#747474"/>
<path d="M569.4 609.1 C570.4 607.8 575.6 609.3 577.2 610.6 C578.8 611.9 579.8 615.6 578.8 616.9 C577.7 618.2 572.5 619.7 570.9 618.4 C569.4 617.1 568.3 610.4 569.4 609.1 Z" fill="#606060"/>
<path d="M440.1 600.2 C441.7 598.4 446.6 596.2 448.9 597.2 C451.2 598.2 453.3 602.9 453.8 606.0 C454.3 609.1 453.5 614.0 451.8 615.8 C450.2 617.6 446.1 618.1 444.0 616.8 C441.9 615.5 439.8 610.7 439.1 608.0 C438.5 605.2 438.5 601.9 440.1 600.2 Z" fill="#4c4c4c"/>
<path d="M437.2 588.4 C438.5 586.5 449.6 583.6 452.8 584.5 C456.1 585.5 458.0 592.3 456.7 594.3 C455.4 596.2 448.3 597.2 445.0 596.2 C441.7 595.3 435.9 590.4 437.2 588.4 Z" fill="#606060"/>
<path d="M628.8 623.1 C630.1 621.3 635.8 620.3 638.1 620.8 C640.5 621.3 642.6 624.3 642.8 626.2 C643.1 628.2 641.8 631.6 639.7 632.5 C637.6 633.4 632.1 633.3 630.3 631.7 C628.5 630.2 627.4 624.9 628.8 623.1 Z" fill="#464646"/>
<path d="M641.2 607.5 C641.8 605.2 648.5 604.4 650.6 605.9 C652.7 607.5 653.5 613.0 653.8 616.9 C654.0 620.8 653.2 625.2 652.2 629.4 C651.1 633.5 648.5 638.2 647.5 641.9 C646.5 645.5 645.2 647.1 645.9 651.2 C646.7 655.4 650.4 662.2 652.2 666.9 C654.0 671.6 655.6 675.7 656.9 679.4 C658.2 683.0 660.8 687.2 660.0 688.8 C659.2 690.3 654.3 690.8 652.2 688.8 C650.1 686.7 649.1 680.4 647.5 676.2 C645.9 672.1 644.1 668.4 642.8 663.8 C641.5 659.1 639.4 653.3 639.7 648.1 C639.9 642.9 643.1 637.2 644.4 632.5 C645.7 627.8 648.0 624.2 647.5 620.0 C647.0 615.8 640.7 609.8 641.2 607.5 Z" fill="#6c6c6c"/>
<path d="M640.6 605.6 C641.4 604.1 647.9 602.0 651.6 602.5 C655.2 603.0 661.7 604.6 662.5 608.8 C663.3 612.9 658.1 622.3 656.2 627.5 C654.4 632.7 652.6 635.8 651.6 640.0 C650.5 644.2 649.5 648.3 650.0 652.5 C650.5 656.7 652.6 660.3 654.7 665.0 C656.8 669.7 660.4 675.9 662.5 680.6 C664.6 685.3 667.7 690.5 667.2 693.1 C666.7 695.7 661.7 698.3 659.4 696.2 C657.0 694.2 655.2 685.8 653.1 680.6 C651.0 675.4 648.4 670.2 646.9 665.0 C645.3 659.8 644.0 654.6 643.8 649.4 C643.5 644.2 644.3 638.4 645.3 633.8 C646.4 629.1 649.7 624.9 650.0 621.2 C650.3 617.6 648.4 614.5 646.9 611.9 C645.3 609.3 639.8 607.2 640.6 605.6 Z" fill="#6c6c6c"/>
<path d="M598.4 554.1 C600.8 552.8 608.1 555.6 612.5 557.2 C616.9 558.8 619.3 561.1 625.0 563.4 C630.7 565.8 640.1 568.9 646.9 571.2 C653.6 573.6 659.9 575.4 665.6 577.5 C671.4 579.6 676.6 583.2 681.2 583.8 C685.9 584.3 689.3 581.4 693.8 580.9 C698.2 580.5 704.0 580.2 707.8 580.9 C711.6 581.7 714.1 581.7 716.4 585.3 C718.8 588.9 720.2 597.0 721.9 602.5 C723.6 608.0 726.0 613.2 726.6 618.1 C727.1 623.1 725.9 628.8 725.0 632.2 C724.1 635.6 721.1 635.8 721.1 638.4 C721.1 641.0 723.0 646.5 725.0 647.8 C727.0 649.1 729.4 647.6 732.8 646.2 C736.2 644.9 740.6 642.3 745.3 640.0 C750.0 637.7 758.3 632.2 760.9 632.2 C763.5 632.2 775.3 630.9 760.9 640.0 C746.6 649.1 690.9 678.5 675.0 686.9 C659.1 695.2 668.1 691.0 665.6 690.0 C663.2 689.0 661.7 684.3 660.2 680.6 C658.6 677.0 657.9 671.8 656.2 668.1 C654.6 664.5 651.6 662.4 650.0 658.8 C648.4 655.1 646.9 649.9 646.9 646.2 C646.9 642.6 648.8 640.0 650.0 636.9 C651.2 633.8 652.6 631.1 653.9 627.5 C655.2 623.9 658.2 618.1 657.8 615.0 C657.4 611.9 653.4 610.2 651.6 608.8 C649.7 607.3 647.1 607.3 646.9 606.4 C646.6 605.5 647.9 603.2 650.0 603.3 C652.1 603.4 656.0 605.5 659.4 607.2 C662.8 608.9 667.2 613.4 670.3 613.4 C673.4 613.4 676.3 609.5 678.1 607.2 C679.9 604.8 681.8 602.0 681.2 599.4 C680.7 596.8 678.6 594.2 675.0 591.6 C671.4 589.0 665.4 586.2 659.4 583.8 C653.4 581.3 645.8 579.1 639.1 576.7 C632.3 574.4 625.5 571.6 618.8 569.7 C612.0 567.7 601.8 567.6 598.4 565.0 C595.1 562.4 596.1 555.4 598.4 554.1 Z" fill="#868686"/>
<path d="M716.4 587.7 C718.5 587.1 726.0 587.5 729.7 590.0 C733.3 592.5 735.4 597.8 738.3 602.5 C741.1 607.2 743.9 613.4 746.9 618.1 C749.9 622.8 757.3 627.0 756.2 630.6 C755.2 634.3 745.6 637.3 740.6 640.0 C735.7 642.7 729.4 647.0 726.6 647.0 C723.7 647.0 723.4 643.0 723.4 640.0 C723.4 637.0 726.0 633.2 726.6 629.1 C727.1 624.9 727.2 619.4 726.6 615.0 C725.9 610.6 724.2 606.1 722.7 602.5 C721.1 598.9 718.2 595.6 717.2 593.1 C716.1 590.7 714.3 588.2 716.4 587.7 Z" fill="#797979"/>
<path d="M723.4 594.7 C724.0 592.3 728.4 592.1 731.2 594.7 C734.1 597.3 738.0 605.4 740.6 610.3 C743.2 615.3 746.9 620.5 746.9 624.4 C746.9 628.3 743.2 631.1 740.6 633.8 C738.0 636.4 733.6 639.5 731.2 640.0 C728.9 640.5 726.8 639.5 726.6 636.9 C726.3 634.3 729.4 629.1 729.7 624.4 C729.9 619.7 729.2 613.7 728.1 608.8 C727.1 603.8 722.9 597.0 723.4 594.7 Z" fill="#6c6c6c"/>
<path d="M728.1 629.1 C729.3 627.6 732.9 626.7 734.4 627.5 C735.8 628.3 737.1 631.8 736.7 633.8 C736.3 635.7 733.6 638.8 732.0 639.2 C730.5 639.6 728.0 637.8 727.3 636.1 C726.7 634.4 727.0 630.5 728.1 629.1 Z" fill="#606060"/>
<path d="M740.6 624.4 C741.9 622.6 745.8 621.5 748.4 622.8 C751.0 624.1 756.5 629.8 756.2 632.2 C756.0 634.5 749.5 636.6 746.9 636.9 C744.3 637.1 741.7 635.8 740.6 633.8 C739.6 631.7 739.3 626.2 740.6 624.4 Z" fill="#868686"/>
<path d="M598.4 558.0 C601.3 557.8 608.9 559.8 615.6 561.9 C622.4 564.0 631.2 567.7 639.1 570.5 C646.9 573.2 655.5 575.7 662.5 578.3 C669.5 580.9 676.0 584.3 681.2 586.1 C686.5 587.8 689.6 588.0 693.8 588.8 C697.9 589.5 702.6 589.5 706.2 590.3 C709.9 591.2 713.2 591.4 715.6 593.9 C718.1 596.5 719.7 601.6 721.1 605.6 C722.5 609.7 724.0 614.0 724.2 618.1 C724.5 622.3 723.6 627.4 722.7 630.6 C721.7 633.9 719.4 634.5 718.8 637.7 C718.1 640.8 719.4 645.6 718.8 649.4 C718.1 653.2 722.1 654.3 714.8 660.3 C707.6 666.3 682.9 681.1 675.0 685.3 C667.1 689.5 669.4 687.4 667.2 685.3 C665.0 683.2 663.5 676.5 661.7 672.8 C659.9 669.2 657.9 667.3 656.2 663.4 C654.6 659.5 652.1 653.5 651.6 649.4 C651.0 645.2 652.1 641.8 653.1 638.4 C654.2 635.1 656.5 632.4 657.8 629.1 C659.1 625.7 660.7 620.7 660.9 618.1 C661.2 615.5 658.1 613.7 659.4 613.4 C660.7 613.2 665.4 617.1 668.8 616.6 C672.1 616.0 677.0 612.9 679.7 610.3 C682.4 607.7 685.4 604.1 685.2 600.9 C684.9 597.8 681.9 594.4 678.1 591.6 C674.3 588.7 669.0 586.5 662.5 583.8 C656.0 581.0 646.9 578.0 639.1 575.2 C631.2 572.3 622.4 568.6 615.6 566.6 C608.9 564.5 601.3 564.1 598.4 562.7 C595.6 561.2 595.6 558.1 598.4 558.0 Z" fill="#939393"/>
<path d="M685.2 589.7 C686.2 589.3 690.8 591.0 693.8 591.6 C696.7 592.1 700.2 592.4 703.1 593.1 C706.0 593.9 708.8 594.1 711.2 595.9 C713.7 597.8 716.3 600.9 718.0 604.1 C719.6 607.2 720.7 611.1 721.1 615.0 C721.5 618.9 721.1 623.9 720.3 627.5 C719.5 631.1 717.3 633.2 716.4 636.9 C715.5 640.5 715.6 645.6 714.8 649.4 C714.1 653.2 718.4 653.7 711.7 659.5 C705.1 665.4 682.0 680.6 675.0 684.5 C668.0 688.4 671.5 685.2 669.5 683.0 C667.6 680.8 665.1 674.8 663.3 671.2 C661.5 667.7 660.1 665.5 658.6 661.9 C657.1 658.2 654.8 653.0 654.4 649.4 C653.9 645.7 654.9 642.9 655.9 640.0 C657.0 637.1 659.3 634.8 660.6 632.2 C661.9 629.6 662.5 626.8 663.8 624.4 C665.0 621.9 666.5 618.3 668.0 617.3 C669.5 616.4 670.3 619.8 672.7 618.9 C675.0 618.0 679.5 614.9 682.0 612.2 C684.6 609.5 686.9 605.5 687.8 602.5 C688.7 599.5 687.9 596.0 687.5 593.9 C687.1 591.8 684.1 590.1 685.2 589.7 Z" fill="#9f9f9f"/>
<path d="M687.5 621.2 C689.3 620.2 695.8 619.2 700.0 619.7 C704.2 620.2 710.9 622.6 712.5 624.4 C714.1 626.2 712.0 629.8 709.4 630.6 C706.8 631.4 700.3 629.8 696.9 629.1 C693.5 628.3 690.6 627.2 689.1 625.9 C687.5 624.6 685.7 622.3 687.5 621.2 Z" fill="#939393"/>
<path d="M700.0 646.2 C703.4 644.4 709.9 642.6 712.5 643.1 C715.1 643.6 716.1 646.8 715.6 649.4 C715.1 652.0 712.5 656.4 709.4 658.8 C706.2 661.1 700.5 662.9 696.9 663.4 C693.2 664.0 688.3 663.4 687.5 661.9 C686.7 660.3 690.1 656.7 692.2 654.1 C694.3 651.5 696.6 648.1 700.0 646.2 Z" fill="#939393"/>
<path d="M676.6 641.6 C677.7 640.5 680.7 639.2 682.8 640.0 C684.9 640.8 688.3 644.4 689.1 646.2 C689.8 648.1 689.1 650.3 687.5 650.9 C685.9 651.6 681.6 650.9 679.7 650.2 C677.8 649.4 676.8 647.7 676.2 646.2 C675.7 644.8 675.5 642.6 676.6 641.6 Z" fill="#acacac"/>
<path d="M665.6 663.4 C665.9 660.8 668.8 661.4 671.9 661.9 C675.0 662.4 680.2 666.0 684.4 666.6 C688.5 667.1 692.7 666.3 696.9 665.0 C701.0 663.7 706.1 659.7 709.4 658.8 C712.6 657.8 722.1 655.1 716.4 659.5 C710.7 664.0 682.7 682.3 675.0 685.3 C667.3 688.3 671.9 681.1 670.3 677.5 C668.8 673.9 665.4 666.0 665.6 663.4 Z" fill="#acacac"/>
<path d="M682.0 673.6 C683.5 672.4 688.0 671.4 690.6 671.2 C693.2 671.1 698.2 671.4 697.7 672.8 C697.1 674.2 690.1 678.9 687.5 679.8 C684.9 680.8 682.9 679.3 682.0 678.3 C681.1 677.2 680.6 674.8 682.0 673.6 Z" fill="#b9b9b9"/>
<path d="M708.0 610.2 L709.8 610.2 L709.8 612.0 L708.0 612.0 Z" fill="#acacac"/>
<path d="M328.4 421.6 C329.7 419.2 336.0 415.3 339.4 415.3 C342.8 415.3 345.1 419.7 348.8 421.6 C352.4 423.4 357.1 424.4 361.2 426.2 C365.4 428.1 371.1 429.4 373.8 432.5 C376.4 435.6 376.9 440.8 376.9 445.0 C376.9 449.2 375.3 453.9 373.8 457.5 C372.2 461.1 367.0 463.8 367.5 466.9 C368.0 470.0 376.9 474.2 376.9 476.2 C376.9 478.3 370.9 480.2 367.5 479.4 C364.1 478.6 358.9 475.2 356.6 471.6 C354.2 467.9 354.7 461.9 353.4 457.5 C352.1 453.1 351.1 448.6 348.8 445.0 C346.4 441.4 342.2 438.2 339.4 435.6 C336.5 433.0 333.4 431.7 331.6 429.4 C329.7 427.0 327.1 423.9 328.4 421.6 Z" fill="#535353"/>
<path d="M326.9 485.6 C329.2 483.5 339.4 482.5 345.6 482.5 C351.9 482.5 359.2 484.1 364.4 485.6 C369.6 487.2 376.4 489.8 376.9 491.9 C377.4 494.0 372.2 497.6 367.5 498.1 C362.8 498.6 354.7 495.5 348.8 495.0 C342.8 494.5 335.2 496.6 331.6 495.0 C327.9 493.4 324.5 487.7 326.9 485.6 Z" fill="#535353"/>
<path d="M367.5 410.6 C368.5 408.8 373.8 407.2 376.9 409.1 C380.0 410.9 384.4 417.7 386.2 421.6 C388.1 425.5 388.3 429.6 387.8 432.5 C387.3 435.4 384.9 439.3 383.1 438.8 C381.3 438.2 379.0 432.5 376.9 429.4 C374.8 426.2 372.2 423.1 370.6 420.0 C369.1 416.9 366.5 412.4 367.5 410.6 Z" fill="#393939"/>
<path d="M315.9 427.8 C316.2 426.2 321.9 427.8 325.3 429.4 C328.7 430.9 332.6 434.1 336.2 437.2 C339.9 440.3 345.6 445.5 347.2 448.1 C348.8 450.7 347.7 453.1 345.6 452.8 C343.5 452.6 338.3 448.9 334.7 446.6 C331.0 444.2 326.9 441.9 323.8 438.8 C320.6 435.6 315.7 429.4 315.9 427.8 Z" fill="#393939"/>
<path d="M725.0 627.5 C725.3 622.8 727.6 616.6 729.7 613.4 C731.8 610.3 734.9 608.5 737.5 608.8 C740.1 609.0 743.8 611.9 745.3 615.0 C746.9 618.1 745.1 624.4 746.9 627.5 C748.7 630.6 757.3 631.7 756.2 633.8 C755.2 635.8 745.3 638.7 740.6 640.0 C735.9 641.3 730.7 643.6 728.1 641.6 C725.5 639.5 724.7 632.2 725.0 627.5 Z" fill="#868686"/>
<path d="M723.4 630.6 C723.2 627.0 725.0 621.0 726.6 618.1 C728.1 615.3 731.0 612.9 732.8 613.4 C734.6 614.0 737.0 617.9 737.5 621.2 C738.0 624.6 737.5 630.6 735.9 633.8 C734.4 636.9 730.2 640.5 728.1 640.0 C726.0 639.5 723.7 634.3 723.4 630.6 Z" fill="#737373"/>
<path d="M727.3 628.3 C728.3 627.0 731.5 626.1 732.8 626.7 C734.1 627.4 735.4 630.5 735.2 632.2 C734.9 633.9 732.6 636.5 731.2 636.9 C729.9 637.3 727.5 636.0 726.9 634.5 C726.2 633.1 726.4 629.6 727.3 628.3 Z" fill="#606060"/>
<path d="M595.8 555.0 L605.2 556.2 L616.9 560.3 L628.6 563.8 L640.3 567.9 L652.1 572.6 L663.8 576.7 L675.5 579.7 L687.2 582.6 L684.0 595.5 L675.5 591.1 L663.8 586.4 L652.1 582.3 L640.3 578.2 L628.6 574.1 L616.9 570.0 L605.2 565.9 L597.0 563.0 Z" fill="#8c8c8c"/>
<path d="M595.8 557.2 L605.2 558.4 L616.9 562.5 L628.6 566.0 L640.3 570.1 L652.1 574.8 L663.8 578.9 L675.5 581.9 L687.2 584.8 L684.0 593.3 L675.5 588.9 L663.8 584.2 L652.1 580.1 L640.3 576.0 L628.6 571.9 L616.9 567.8 L605.2 563.7 L597.0 560.8 Z" fill="#9e9e9e"/>
<path d="M364.4 437.2 C365.9 434.8 370.6 433.0 372.2 434.1 C373.8 435.1 374.0 440.1 373.8 443.4 C373.5 446.8 372.2 452.0 370.6 454.4 C369.1 456.7 365.7 458.5 364.4 457.5 C363.1 456.5 362.8 451.5 362.8 448.1 C362.8 444.7 362.8 439.5 364.4 437.2 Z" fill="#606060"/>
<path d="M337.8 415.3 C338.1 414.3 341.2 415.6 342.5 416.9 C343.8 418.2 345.9 422.1 345.6 423.1 C345.4 424.2 342.2 424.4 340.9 423.1 C339.6 421.8 337.6 416.4 337.8 415.3 Z" fill="#606060"/>
<path d="M301.9 512.2 C302.9 510.9 308.1 509.8 309.7 510.6 C311.2 511.4 312.3 515.6 311.2 516.9 C310.2 518.2 305.0 519.2 303.4 518.4 C301.9 517.7 300.8 513.5 301.9 512.2 Z" fill="#606060"/>
<path d="M286.2 462.2 C287.6 461.1 292.5 462.4 295.6 463.8 C298.8 465.1 303.7 467.7 305.0 470.0 C306.3 472.3 305.3 476.8 303.4 477.8 C301.6 478.9 296.7 477.6 294.1 476.2 C291.5 474.9 289.1 472.3 287.8 470.0 C286.5 467.7 284.9 463.2 286.2 462.2 Z" fill="#606060"/>
<path d="M485.3 585.0 C487.7 583.4 496.5 582.1 502.5 581.9 C508.5 581.6 515.0 582.7 521.2 583.4 C527.5 584.2 535.3 585.3 540.0 586.6 C544.7 587.9 549.9 589.9 549.4 591.2 C548.9 592.6 542.1 594.4 536.9 594.4 C531.7 594.4 523.9 592.0 518.1 591.2 C512.4 590.5 507.4 589.7 502.5 589.7 C497.6 589.7 491.3 592.0 488.4 591.2 C485.6 590.5 483.0 586.6 485.3 585.0 Z" fill="#464646"/>
<path d="M527.5 600.6 C531.7 593.9 543.1 597.2 549.4 597.5 C555.6 597.8 559.8 601.9 565.0 602.2 C570.2 602.4 577.2 595.7 580.6 599.1 C584.0 602.4 584.5 608.2 585.3 622.5 C586.1 636.8 588.7 674.6 585.3 685.0 C581.9 695.4 571.0 687.6 565.0 685.0 C559.0 682.4 554.6 674.6 549.4 669.4 C544.2 664.2 537.9 659.0 533.8 653.8 C529.6 648.5 525.4 647.0 524.4 638.1 C523.3 629.3 523.3 607.4 527.5 600.6 Z" fill="#464646"/>
<path d="M583.8 630.3 C586.4 620.7 598.1 618.1 600.9 627.2 C603.8 636.3 603.5 675.4 600.9 685.0 C598.3 694.6 588.2 694.1 585.3 685.0 C582.4 675.9 581.1 639.9 583.8 630.3 Z" fill="#393939"/>
<path d="M715.6 649.4 C716.4 647.6 717.1 649.1 720.0 647.8 C722.9 646.5 728.9 643.8 732.8 641.6 C736.8 639.3 740.5 635.4 743.8 634.5 C747.0 633.6 750.3 635.2 752.3 636.1 C754.4 637.0 761.8 636.0 756.2 640.0 C750.7 644.0 725.5 657.2 718.8 660.3 C712.0 663.4 716.1 660.6 715.6 658.8 C715.1 656.9 714.9 651.2 715.6 649.4 Z" fill="#939393"/>
<path d="M459.5 718.1 C463.8 715.2 479.7 720.1 484.9 724.0 C490.1 727.9 490.1 736.0 490.8 741.6 C491.4 747.1 487.5 752.0 488.8 757.2 C490.1 762.4 494.7 769.9 498.6 772.8 C502.5 775.7 509.0 777.4 512.3 774.8 C515.5 772.2 515.5 761.4 518.1 757.2 C520.7 753.0 524.0 751.3 527.9 749.4 C531.8 747.4 538.0 747.4 541.6 745.5 C545.1 743.5 546.8 741.6 549.4 737.7 C552.0 733.8 554.6 725.9 557.2 722.0 C559.8 718.1 561.7 716.5 565.0 714.2 C568.3 711.9 574.1 706.4 576.7 708.4 C579.3 710.3 582.6 719.8 580.6 725.9 C578.7 732.1 570.9 740.3 565.0 745.5 C559.1 750.7 552.0 753.6 545.5 757.2 C539.0 760.8 532.1 763.0 525.9 767.0 C519.8 770.9 513.6 777.7 508.4 780.6 C503.2 783.6 499.6 785.2 494.7 784.5 C489.8 783.9 483.3 780.6 479.1 776.7 C474.8 772.8 472.6 767.0 469.3 761.1 C466.0 755.2 461.2 748.7 459.5 741.6 C457.9 734.4 455.3 721.1 459.5 718.1 Z" fill="#393939"/>
<path d="M469.7 635.0 C471.0 630.1 475.7 626.7 479.1 622.5 C482.4 618.3 486.9 614.2 490.0 610.0 C493.1 605.8 494.9 600.9 497.8 597.5 C500.7 594.1 503.8 589.9 507.2 589.7 C510.6 589.4 515.8 592.6 518.1 595.9 C520.5 599.3 521.0 605.1 521.2 610.0 C521.5 614.9 521.5 620.9 519.7 625.6 C517.9 630.3 513.7 635.3 510.3 638.1 C506.9 641.0 502.8 642.6 499.4 642.8 C496.0 643.1 492.1 638.4 490.0 639.7 C487.9 641.0 488.7 647.5 486.9 650.6 C485.1 653.8 481.7 658.2 479.1 658.4 C476.5 658.7 472.8 656.1 471.2 652.2 C469.7 648.3 468.4 639.9 469.7 635.0 Z" fill="#393939"/>
<path d="M529.1 619.4 C530.5 617.3 534.4 616.2 536.9 616.2 C539.3 616.2 542.6 617.0 543.9 619.4 C545.2 621.7 545.3 627.2 544.7 630.3 C544.0 633.4 542.1 637.1 540.0 638.1 C537.9 639.2 534.1 638.1 532.2 636.6 C530.2 635.0 528.8 631.6 528.3 628.8 C527.8 625.9 527.6 621.5 529.1 619.4 Z" fill="#393939"/>
<path d="M486.9 688.8 C490.8 685.6 494.0 681.7 498.6 679.1 C503.2 676.5 508.4 674.5 514.2 673.2 C520.1 671.9 528.2 670.3 533.8 671.2 C539.3 672.2 544.5 675.2 547.4 679.1 C550.4 683.0 551.0 689.5 551.3 694.7 C551.7 699.9 551.0 705.1 549.4 710.3 C547.7 715.5 544.2 721.4 541.6 725.9 C539.0 730.5 537.7 734.4 533.8 737.7 C529.8 740.9 523.3 744.5 518.1 745.5 C512.9 746.4 506.7 745.5 502.5 743.5 C498.3 741.6 494.7 737.3 492.7 733.8 C490.8 730.2 493.1 725.3 490.8 722.0 C488.5 718.8 483.3 716.5 479.1 714.2 C474.8 711.9 469.0 710.3 465.4 708.4 C461.8 706.4 458.2 704.5 457.6 702.5 C456.9 700.5 458.6 697.3 461.5 696.6 C464.4 696.0 470.9 699.9 475.2 698.6 C479.4 697.3 483.0 692.1 486.9 688.8 Z" fill="#606060"/>
<path d="M555.2 692.7 C556.5 690.8 563.2 691.8 565.0 693.7 C566.8 695.7 567.3 702.5 566.0 704.5 C564.7 706.4 559.0 707.4 557.2 705.4 C555.4 703.5 553.9 694.7 555.2 692.7 Z" fill="#393939"/>
<path d="M557.2 722.0 C558.7 720.4 565.2 719.8 567.0 721.1 C568.7 722.4 569.4 728.2 567.9 729.8 C566.5 731.5 560.0 732.1 558.2 730.8 C556.4 729.5 555.7 723.7 557.2 722.0 Z" fill="#393939"/>
<path d="M596.2 645.9 C597.6 642.8 603.9 643.3 606.0 644.9 C608.1 646.5 608.9 652.2 608.9 655.6 C608.9 659.0 607.8 664.1 606.0 665.4 C604.2 666.7 599.8 666.7 598.2 663.4 C596.6 660.2 594.9 649.0 596.2 645.9 Z" fill="#2d2d2d"/>
<path d="M549.4 659.5 C550.7 655.6 558.8 654.3 561.1 657.6 C563.4 660.8 564.3 675.2 563.0 679.1 C561.7 683.0 555.6 684.3 553.3 681.0 C551.0 677.8 548.1 663.4 549.4 659.5 Z" fill="#393939"/>
<path d="M473.2 638.0 C474.5 635.8 481.3 636.1 483.0 638.0 C484.7 640.0 484.7 647.5 483.4 649.8 C482.1 652.0 476.8 653.7 475.2 651.7 C473.5 649.8 471.9 640.3 473.2 638.0 Z" fill="#202020"/>
<path d="M504.5 688.8 C506.7 686.5 515.2 685.2 518.1 686.9 C521.1 688.5 522.7 695.3 522.0 698.6 C521.4 701.8 517.1 706.1 514.2 706.4 C511.3 706.7 506.1 703.5 504.5 700.5 C502.8 697.6 502.2 691.1 504.5 688.8 Z" fill="#464646"/>
<path d="M474.4 633.4 C475.6 629.8 477.8 629.0 480.6 625.6 C483.5 622.2 488.4 617.3 491.6 613.1 C494.7 609.0 496.8 603.9 499.4 600.6 C502.0 597.4 504.6 593.9 507.2 593.6 C509.7 593.3 512.9 595.8 514.7 599.1 C516.5 602.3 517.8 608.7 517.8 613.1 C517.8 617.6 516.5 622.0 514.7 625.6 C512.9 629.2 509.7 632.7 507.2 634.7 C504.6 636.7 501.7 638.0 499.4 637.8 C497.0 637.6 495.2 633.9 493.1 633.4 C491.0 633.0 488.4 632.7 486.9 635.0 C485.3 637.3 485.1 644.4 483.8 647.5 C482.4 650.6 480.8 653.8 479.1 653.8 C477.3 653.8 473.9 650.9 473.1 647.5 C472.3 644.1 473.1 637.1 474.4 633.4 Z" fill="#2d2d2d"/>
<path d="M518.1 677.1 C520.1 675.2 527.6 673.2 531.8 673.2 C536.0 673.2 541.9 675.2 543.5 677.1 C545.1 679.1 543.8 683.9 541.6 684.9 C539.3 685.9 533.4 683.0 529.8 683.0 C526.3 683.0 522.0 685.9 520.1 684.9 C518.1 683.9 516.2 679.1 518.1 677.1 Z" fill="#6c6c6c"/>
<path d="M524.0 706.4 C525.9 703.5 534.1 697.6 537.7 694.7 C541.2 691.8 543.8 688.2 545.5 688.8 C547.1 689.5 548.7 695.3 547.4 698.6 C546.1 701.8 541.2 706.1 537.7 708.4 C534.1 710.6 528.2 712.6 525.9 712.3 C523.7 711.9 522.0 709.3 524.0 706.4 Z" fill="#6c6c6c"/>
<path d="M496.6 729.8 C497.0 727.9 500.9 726.3 504.5 725.9 C508.0 725.6 513.6 727.6 518.1 727.9 C522.7 728.2 527.6 728.9 531.8 727.9 C536.0 726.9 541.2 722.4 543.5 722.0 C545.8 721.7 546.8 724.0 545.5 725.9 C544.2 727.9 540.3 732.1 535.7 733.8 C531.1 735.4 523.7 735.1 518.1 735.7 C512.6 736.4 506.1 738.6 502.5 737.7 C498.9 736.7 496.3 731.8 496.6 729.8 Z" fill="#6c6c6c"/>
<path d="M457.6 704.5 C459.5 704.0 465.7 705.3 469.3 706.4 C472.9 707.5 477.8 709.8 479.1 711.3 C480.4 712.8 479.4 715.0 477.1 715.2 C474.8 715.4 468.6 713.2 465.4 712.3 C462.1 711.3 458.9 710.6 457.6 709.3 C456.3 708.0 455.6 704.9 457.6 704.5 Z" fill="#6c6c6c"/>
<path d="M486.9 653.7 C488.0 651.5 494.0 650.9 495.7 652.7 C497.4 654.5 498.2 662.2 497.0 664.4 C495.9 666.6 490.5 667.6 488.8 665.8 C487.1 664.0 485.7 655.9 486.9 653.7 Z" fill="#6c6c6c"/>
<path d="M463.4 722.0 C466.2 719.1 475.2 718.5 479.1 720.1 C483.0 721.7 485.6 726.9 486.9 731.8 C488.2 736.7 488.5 745.1 486.9 749.4 C485.2 753.6 480.4 756.9 477.1 757.2 C473.9 757.5 469.8 754.6 467.3 751.3 C464.9 748.1 463.1 742.5 462.5 737.7 C461.8 732.8 460.7 725.0 463.4 722.0 Z" fill="#2d2d2d"/>
<path d="M497.6 757.2 C499.1 754.3 505.6 753.9 508.4 755.2 C511.1 756.5 514.2 761.7 514.2 765.0 C514.2 768.3 510.8 773.5 508.4 774.8 C505.9 776.1 501.4 775.7 499.6 772.8 C497.8 769.9 496.2 760.1 497.6 757.2 Z" fill="#2d2d2d"/>
<path d="M497.8 622.5 C499.2 620.7 503.0 619.6 505.6 619.4 C508.2 619.1 512.4 619.4 513.4 620.9 C514.5 622.5 513.7 626.4 511.9 628.8 C510.1 631.1 505.0 634.7 502.5 635.0 C500.0 635.3 497.8 632.4 497.0 630.3 C496.2 628.2 496.4 624.3 497.8 622.5 Z" fill="#202020"/>
<path d="M475.9 635.0 C477.0 632.1 480.8 631.1 482.2 631.9 C483.6 632.7 484.8 636.6 484.5 639.7 C484.3 642.8 482.1 649.1 480.6 650.6 C479.2 652.2 476.7 651.7 475.9 649.1 C475.2 646.5 474.9 637.9 475.9 635.0 Z" fill="#202020"/>
<path d="M524.0 679.1 C525.1 678.3 530.4 677.6 531.8 678.1 C533.2 678.6 533.3 681.2 532.2 682.0 C531.0 682.7 526.3 683.1 525.0 682.6 C523.6 682.1 522.8 679.8 524.0 679.1 Z" fill="#797979"/>
<path d="M502.5 729.8 C504.9 729.1 513.2 730.3 518.1 730.2 C523.0 730.2 529.7 728.9 531.8 729.5 C533.9 730.0 533.1 732.9 530.8 733.8 C528.5 734.6 522.7 734.6 518.1 734.7 C513.6 734.9 506.1 735.5 503.5 734.7 C500.9 733.9 500.1 730.6 502.5 729.8 Z" fill="#797979"/>
<path d="M467.3 729.8 C468.6 727.4 473.0 725.9 475.2 726.9 C477.3 727.9 479.6 732.3 480.0 735.7 C480.5 739.1 479.6 745.0 478.1 747.4 C476.6 749.9 473.0 751.3 471.2 750.4 C469.5 749.4 468.0 745.0 467.3 741.6 C466.7 738.1 466.0 732.3 467.3 729.8 Z" fill="#131313"/>
<path d="M500.9 624.1 C502.1 622.8 507.7 621.7 508.8 622.5 C509.8 623.3 508.4 627.4 507.2 628.8 C506.0 630.1 502.8 631.1 501.7 630.3 C500.7 629.5 499.8 625.4 500.9 624.1 Z" fill="#131313"/>
<path d="M509.5 636.6 C510.3 634.5 513.6 632.9 515.0 633.4 C516.4 634.0 518.1 637.3 518.1 639.7 C518.1 642.0 516.3 646.5 515.0 647.5 C513.7 648.5 511.2 647.8 510.3 645.9 C509.4 644.1 508.8 638.6 509.5 636.6 Z" fill="#6c6c6c"/>
<path d="M486.9 655.3 C487.9 653.8 491.7 652.7 493.1 653.8 C494.6 654.8 495.7 659.5 495.5 661.6 C495.2 663.6 493.0 666.0 491.6 666.2 C490.1 666.5 487.7 664.9 486.9 663.1 C486.1 661.3 485.8 656.9 486.9 655.3 Z" fill="#6c6c6c"/>
<path d="M458.8 586.6 C459.8 585.5 463.2 584.6 465.0 585.0 C466.8 585.4 469.9 587.5 469.7 588.9 C469.4 590.3 465.3 593.2 463.4 593.6 C461.6 594.0 459.5 592.4 458.8 591.2 C458.0 590.1 457.7 587.6 458.8 586.6 Z" fill="#797979"/>
<path d="M518.1 677.2 C519.9 675.6 526.5 674.2 530.6 674.1 C534.8 673.9 541.0 674.8 543.1 676.4 C545.2 678.0 545.2 682.0 543.1 683.4 C541.0 684.9 534.5 685.0 530.6 685.0 C526.7 685.0 521.8 684.7 519.7 683.4 C517.6 682.1 516.3 678.8 518.1 677.2 Z" fill="#6c6c6c"/>
<path d="M524.4 679.5 C525.5 678.9 530.9 678.3 532.2 678.8 C533.5 679.2 533.4 681.5 532.2 682.2 C531.0 682.8 526.5 683.1 525.2 682.7 C523.9 682.2 523.2 680.2 524.4 679.5 Z" fill="#797979"/>
<path d="M264.1 351.8 C265.1 354.1 266.4 356.0 270.0 357.7 C273.6 359.3 280.4 360.3 285.6 361.6 C290.8 362.9 296.4 363.2 301.2 365.5 C306.1 367.7 310.7 371.7 314.9 375.2 C319.2 378.8 323.1 383.4 326.6 387.0 C330.2 390.5 332.8 393.8 336.4 396.7 C340.0 399.6 344.5 403.2 348.1 404.5 C351.7 405.8 356.6 406.5 357.9 404.5 C359.2 402.6 356.9 396.7 355.9 392.8 C355.0 388.9 352.0 384.7 352.0 381.1 C352.0 377.5 354.0 373.0 355.9 371.3 C357.9 369.7 360.8 370.0 363.8 371.3 C366.7 372.6 370.3 375.6 373.5 379.1 C376.8 382.7 380.7 387.9 383.3 392.8 C385.9 397.7 387.5 402.6 389.1 408.4 C390.8 414.3 392.6 421.5 393.0 428.0 C393.5 434.5 392.6 441.6 392.1 447.5 C391.6 453.4 381.8 453.4 390.1 463.1 C398.4 472.9 431.9 499.3 441.9 506.1 C451.8 512.9 447.1 506.7 449.7 504.1 C452.3 501.5 454.9 495.4 457.5 490.5 C460.1 485.6 464.0 482.3 465.3 474.8 C466.6 467.4 466.9 454.0 465.3 445.5 C463.7 437.1 459.1 430.9 455.5 424.1 C452.0 417.2 447.7 411.0 443.8 404.5 C439.9 398.0 436.0 391.2 432.1 385.0 C428.2 378.8 424.3 373.0 420.4 367.4 C416.5 361.9 411.9 356.7 408.7 351.8 C405.4 346.9 402.8 343.7 400.9 338.1 C398.9 332.6 397.9 325.1 397.0 318.6 C396.0 312.1 396.3 304.9 395.0 299.1 C393.7 293.2 391.7 288.0 389.1 283.4 C386.5 278.9 383.0 272.4 379.4 271.7 C375.8 271.1 386.9 267.5 367.7 279.5 C348.5 291.6 281.4 331.9 264.1 344.0 C246.9 356.0 263.2 349.5 264.1 351.8 Z" fill="#464646"/>
<path d="M364.9 504.5 C367.5 501.8 373.7 502.2 378.6 498.6 C383.5 495.0 390.0 484.9 394.2 483.0 C398.5 481.0 400.1 484.3 404.0 486.9 C407.9 489.5 415.4 494.4 417.7 498.6 C419.9 502.8 419.9 508.7 417.7 512.3 C415.4 515.8 410.5 518.1 404.0 520.1 C397.5 522.0 386.1 522.0 378.6 524.0 C371.1 525.9 363.3 529.5 359.1 531.8 C354.8 534.1 354.8 537.7 353.2 537.7 C351.6 537.7 349.0 534.4 349.3 531.8 C349.6 529.2 352.9 525.0 355.2 522.0 C357.4 519.1 361.3 517.1 363.0 514.2 C364.6 511.3 362.3 507.1 364.9 504.5 Z" fill="#2d2d2d"/>
<path d="M395.0 324.5 C395.8 318.9 393.4 313.7 392.1 308.8 C390.8 303.9 389.3 299.1 387.2 295.2 C385.1 291.2 382.6 287.7 379.4 285.4 C376.1 283.1 370.9 281.2 367.7 281.5 C364.4 281.8 377.1 276.4 359.8 287.3 C342.6 298.2 269.3 336.8 264.1 346.9 C258.9 357.0 308.1 348.7 328.6 347.9 C349.1 347.1 376.1 345.9 387.2 342.0 C398.3 338.1 394.2 330.0 395.0 324.5 Z" fill="#393939"/>
<path d="M264.1 347.9 C266.1 349.2 271.6 350.5 275.9 351.8 C280.1 353.1 284.6 354.1 289.5 355.7 C294.4 357.3 300.6 359.0 305.2 361.6 C309.7 364.2 313.3 367.7 316.9 371.3 C320.5 374.9 323.4 379.5 326.6 383.0 C329.9 386.6 333.2 390.2 336.4 392.8 C339.7 395.4 343.2 398.0 346.2 398.7 C349.1 399.3 353.3 399.0 354.0 396.7 C354.6 394.4 351.1 388.9 350.1 385.0 C349.1 381.1 347.8 376.9 348.1 373.3 C348.5 369.7 349.8 365.1 352.0 363.5 C354.3 361.9 358.5 362.2 361.8 363.5 C365.1 364.8 368.3 368.4 371.6 371.3 C374.8 374.3 378.6 376.9 381.3 381.1 C384.1 385.3 386.4 390.9 388.2 396.7 C390.0 402.6 391.4 409.7 392.1 416.2 C392.7 422.8 392.2 428.0 392.1 435.8 C391.9 443.6 382.8 452.1 391.1 463.1 C399.4 474.2 432.8 496.0 441.9 502.2 C451.0 508.4 444.6 500.9 445.8 500.2 C446.9 499.6 447.6 500.6 448.7 498.3 C449.9 496.0 451.6 490.5 452.6 486.6 C453.6 482.7 454.4 478.8 454.6 474.8 C454.7 470.9 454.4 469.0 453.6 463.1 C452.8 457.3 451.2 446.5 449.7 439.7 C448.2 432.9 446.8 428.0 444.8 422.1 C442.9 416.2 440.7 410.4 438.0 404.5 C435.2 398.7 431.5 392.5 428.2 387.0 C424.9 381.4 422.0 376.5 418.4 371.3 C414.9 366.1 410.1 360.6 406.7 355.7 C403.3 350.8 400.2 346.6 397.9 342.0 C395.7 337.5 394.5 332.3 393.0 328.4 C391.6 324.5 391.1 322.2 389.1 318.6 C387.2 315.0 384.3 309.6 381.3 306.9 C378.4 304.1 375.1 302.5 371.6 302.0 C368.0 301.5 363.8 303.1 359.8 303.9 C355.9 304.8 352.4 305.7 348.1 306.9 C343.9 308.1 348.5 305.0 334.5 311.2 C320.5 317.4 275.9 337.9 264.1 344.0 C252.4 350.1 262.2 346.6 264.1 347.9 Z" fill="#2d2d2d"/>
<path d="M281.7 345.9 C282.4 343.5 292.8 339.8 299.3 337.1 C305.8 334.5 314.6 332.1 320.8 330.3 C327.0 328.5 331.2 328.5 336.4 326.4 C341.6 324.3 346.8 319.9 352.0 317.6 C357.2 315.3 363.1 313.1 367.7 312.7 C372.2 312.4 376.1 313.4 379.4 315.7 C382.6 317.9 385.2 322.7 387.2 326.4 C389.1 330.1 389.1 334.9 391.1 338.1 C393.0 341.4 396.0 342.4 398.9 345.9 C401.8 349.5 405.1 354.4 408.7 359.6 C412.3 364.8 416.8 371.7 420.4 377.2 C424.0 382.7 427.2 387.6 430.2 392.8 C433.1 398.0 435.9 403.2 438.0 408.4 C440.1 413.6 441.4 418.9 442.9 424.1 C444.3 429.3 445.9 433.7 446.8 439.7 C447.6 445.7 447.8 454.8 448.1 460.0 C448.5 465.2 448.6 467.5 448.7 470.9 C448.8 474.4 449.0 477.4 448.7 480.7 C448.4 484.0 447.6 488.2 446.8 490.5 C445.9 492.7 452.6 498.9 443.8 494.4 C435.0 489.8 402.0 472.9 394.0 463.1 C386.0 453.4 395.5 443.6 396.0 435.8 C396.5 428.0 397.3 422.8 397.0 416.2 C396.6 409.7 395.3 402.6 394.0 396.7 C392.7 390.9 390.9 385.3 389.1 381.1 C387.4 376.9 385.6 373.8 383.3 371.3 C381.0 368.9 378.1 368.1 375.5 366.4 C372.9 364.8 370.9 363.5 367.7 361.6 C364.4 359.6 359.8 355.4 355.9 354.7 C352.0 354.1 347.1 356.2 344.2 357.7 C341.3 359.1 338.7 360.3 338.4 363.5 C338.0 366.8 341.1 372.8 342.3 377.2 C343.4 381.6 346.2 388.6 345.2 389.9 C344.2 391.2 339.2 387.4 336.4 385.0 C333.6 382.6 331.2 378.5 328.6 375.2 C326.0 372.0 324.0 368.4 320.8 365.5 C317.5 362.5 313.3 359.9 309.1 357.7 C304.8 355.4 299.9 353.8 295.4 351.8 C290.8 349.8 281.1 348.4 281.7 345.9 Z" fill="#131313"/>
<path d="M302.2 345.0 C303.0 342.9 305.0 338.9 309.1 337.1 C313.1 335.4 321.4 335.0 326.6 334.2 C331.8 333.4 336.1 333.7 340.3 332.3 C344.5 330.8 348.1 327.0 352.0 325.4 C355.9 323.9 361.2 322.6 363.8 322.9 C366.3 323.2 367.4 325.1 367.1 327.4 C366.7 329.7 364.3 334.4 361.8 336.6 C359.3 338.7 355.3 338.2 352.0 340.1 C348.8 342.0 345.8 346.2 342.3 347.9 C338.7 349.6 333.5 348.6 330.5 350.2 C327.6 351.9 325.0 354.5 324.7 357.7 C324.4 360.8 327.3 366.9 328.6 369.4 C329.9 371.8 332.8 372.0 332.5 372.3 C332.2 372.6 328.8 373.4 326.6 371.3 C324.5 369.2 322.2 362.5 319.8 359.6 C317.4 356.7 314.6 355.4 312.0 353.8 C309.4 352.1 305.8 350.9 304.2 349.5 C302.6 348.0 301.4 347.0 302.2 345.0 Z" fill="#060606"/>
<path d="M372.5 347.9 C373.8 346.4 378.2 344.0 381.3 344.0 C384.4 344.0 388.2 345.6 391.1 347.9 C394.0 350.2 396.3 354.7 398.9 357.7 C401.5 360.6 403.8 361.6 406.7 365.5 C409.6 369.4 413.6 375.9 416.5 381.1 C419.4 386.3 422.3 390.9 424.3 396.7 C426.2 402.6 427.2 409.7 428.2 416.2 C429.2 422.8 429.5 428.0 430.2 435.8 C430.8 443.6 437.6 458.6 432.1 463.1 C426.6 467.7 402.5 467.0 397.0 463.1 C391.4 459.2 398.3 446.5 398.9 439.7 C399.6 432.9 400.5 428.0 400.9 422.1 C401.2 416.2 401.3 410.4 400.9 404.5 C400.4 398.7 398.9 392.2 397.9 387.0 C397.0 381.7 396.5 376.9 395.0 373.3 C393.5 369.7 391.7 367.7 389.1 365.5 C386.5 363.2 382.0 361.7 379.4 359.6 C376.8 357.5 374.7 354.7 373.5 352.8 C372.4 350.8 371.2 349.4 372.5 347.9 Z" fill="#060606"/>
<path d="M401.1 436.1 C406.8 433.5 426.6 432.8 432.3 436.1 C438.0 439.3 434.1 450.1 435.2 455.6 C436.4 461.2 437.7 465.4 439.1 469.3 C440.6 473.2 443.0 475.5 444.0 479.1 C445.0 482.6 445.5 487.2 445.0 490.8 C444.5 494.4 442.7 497.3 441.1 500.5 C439.5 503.8 437.2 506.7 435.2 510.3 C433.3 513.9 431.0 518.1 429.4 522.0 C427.7 525.9 427.1 529.2 425.5 533.8 C423.8 538.3 421.2 544.8 419.6 549.4 C418.0 553.9 417.0 556.9 415.7 561.1 C414.4 565.3 413.4 571.5 411.8 574.8 C410.2 578.0 407.9 579.0 405.9 580.6 C404.0 582.3 402.0 584.2 400.1 584.5 C398.1 584.9 396.2 582.6 394.2 582.6 C392.3 582.6 390.0 582.6 388.4 584.5 C386.7 586.5 385.8 591.7 384.5 594.3 C383.2 596.9 382.2 598.9 380.5 600.2 C378.9 601.5 377.0 602.8 374.7 602.1 C372.4 601.5 368.8 597.6 366.9 596.2 C364.9 594.9 363.9 594.0 363.0 594.3 C362.0 594.6 360.7 596.2 361.0 598.2 C361.3 600.2 363.3 603.1 364.9 606.0 C366.5 608.9 369.2 613.2 370.8 615.8 C372.4 618.4 372.4 620.3 374.7 621.6 C377.0 622.9 382.7 620.0 384.5 623.6 C386.2 627.2 386.6 639.9 385.4 643.1 C384.3 646.4 378.9 646.1 377.6 643.1 C376.3 640.2 379.1 628.8 377.6 625.5 C376.2 622.3 371.9 623.6 368.8 623.6 C365.7 623.6 362.3 625.5 359.1 625.5 C355.8 625.5 352.2 625.2 349.3 623.6 C346.4 622.0 343.4 618.7 341.5 615.8 C339.5 612.9 338.7 609.6 337.6 606.0 C336.4 602.4 334.5 598.5 334.6 594.3 C334.8 590.1 336.8 584.2 338.6 580.6 C340.3 577.0 342.9 575.1 345.4 572.8 C347.8 570.5 351.6 569.6 353.2 567.0 C354.8 564.3 354.5 560.8 355.2 557.2 C355.8 553.6 357.3 549.0 357.1 545.5 C356.9 541.9 353.9 538.3 354.2 535.7 C354.5 533.1 356.6 531.3 359.1 529.8 C361.5 528.4 365.9 528.2 368.8 526.9 C371.8 525.6 373.4 523.5 376.6 522.0 C379.9 520.6 383.8 518.8 388.4 518.1 C392.9 517.5 399.4 518.8 404.0 518.1 C408.5 517.5 413.1 516.2 415.7 514.2 C418.3 512.3 419.0 509.0 419.6 506.4 C420.3 503.8 420.6 501.2 419.6 498.6 C418.6 496.0 416.4 492.9 413.8 490.8 C411.1 488.7 406.8 487.4 404.0 485.9 C401.2 484.4 397.5 483.8 397.1 482.0 C396.8 480.2 401.9 477.9 402.0 475.2 C402.2 472.4 398.8 469.3 398.1 465.4 C397.5 461.5 397.6 456.6 398.1 451.7 C398.6 446.8 395.4 438.7 401.1 436.1 Z" fill="#060606"/>
<path d="M406.3 270.5 L411.6 295.2 L415.1 321.5 L417.9 339.1 L423.1 358.4 L432.7 379.5 L447.7 397.1 L457.3 411.2 L467.9 427.0 L474.9 439.3 L484.8 439.3 L484.8 260.0 L418.4 260.0 L406.7 260.0 Z" fill="#606060"/>
<path d="M355.9 375.2 C357.2 374.3 361.5 373.6 363.8 374.3 C366.0 374.9 369.0 377.4 369.6 379.1 C370.3 380.9 369.3 384.0 367.7 385.0 C366.0 386.0 361.8 385.8 359.8 385.0 C357.9 384.2 356.6 381.7 355.9 380.1 C355.3 378.5 354.6 376.2 355.9 375.2 Z" fill="#606060"/>
<path d="M378.6 512.3 C380.2 510.0 389.0 506.7 394.2 504.5 C399.4 502.2 405.9 498.9 409.8 498.6 C413.8 498.3 416.7 500.5 417.7 502.5 C418.6 504.5 418.3 508.4 415.7 510.3 C413.1 512.3 407.2 512.9 402.0 514.2 C396.8 515.5 388.4 518.5 384.5 518.1 C380.5 517.8 377.0 514.5 378.6 512.3 Z" fill="#575757"/>
<path d="M355.0 373.1 C357.3 372.6 363.9 374.2 367.5 376.2 C371.1 378.3 373.8 382.8 376.9 385.6 C380.0 388.5 383.6 390.1 386.2 393.4 C388.9 396.8 390.9 401.5 392.5 405.9 C394.1 410.4 395.1 416.1 395.6 420.0 C396.1 423.9 396.4 429.1 395.6 429.4 C394.8 429.6 392.5 424.9 390.9 421.6 C389.4 418.2 388.1 413.0 386.2 409.1 C384.4 405.2 382.6 401.2 380.0 398.1 C377.4 395.0 373.8 392.7 370.6 390.3 C367.5 388.0 364.1 385.9 361.2 384.1 C358.4 382.2 354.5 381.2 353.4 379.4 C352.4 377.6 352.7 373.6 355.0 373.1 Z" fill="#606060"/>
<path d="M452.7 398.0 L457.6 411.7 L464.4 422.5 L470.3 432.2 L475.2 441.0 L479.1 448.8 L483.9 456.6 L488.8 463.5 L494.7 468.4 L502.5 472.3 L514.2 473.2 L520.1 478.1 L525.0 487.5 L531.0 500.0 L547.0 509.4 L556.5 521.9 L566.0 530.0 L578.0 540.0 L640.0 540.0 L640.0 398.0 Z" fill="#535353"/>
<path d="M455.6 398.0 L459.0 407.8 L465.9 416.6 L471.7 425.4 L476.6 433.2 L480.5 441.0 L485.4 448.8 L491.3 455.7 L498.1 460.5 L506.4 462.0 L514.2 462.0 L521.1 465.9 L527.9 473.7 L534.0 481.5 L541.0 487.9 L547.4 493.8 L558.3 506.2 L570.8 518.8 L583.3 529.7 L594.2 537.5 L640.0 537.0 L640.0 398.0 Z" fill="#626262"/>
<path d="M423.9 356.7 C424.9 354.9 428.3 355.8 430.9 358.4 C433.6 361.1 436.5 367.2 439.7 372.5 C442.9 377.8 447.6 385.7 450.3 390.1 C452.9 394.5 455.5 397.1 455.5 398.9 C455.5 400.6 452.9 402.1 450.3 400.6 C447.6 399.2 442.9 393.6 439.7 390.1 C436.5 386.6 433.4 383.0 430.9 379.5 C428.4 376.0 425.9 372.8 424.7 369.0 C423.5 365.2 422.9 358.4 423.9 356.7 Z" fill="#707070"/>
<path d="M361.5 593.0 C362.9 591.4 368.1 595.3 371.0 598.0 C373.9 600.7 376.0 605.4 379.0 609.0 C382.0 612.6 388.6 616.9 389.0 619.4 C389.4 621.9 384.2 624.1 381.2 624.0 C378.2 623.9 374.1 621.8 371.0 619.0 C367.9 616.2 364.1 611.8 362.5 607.5 C360.9 603.2 360.1 594.6 361.5 593.0 Z" fill="#2f2f2f"/>
</g></g>
<rect x="171" y="212" width="588" height="622" fill="none" stroke="#000" stroke-width="2"/>
<g clip-path="url(#fr)"><path d="M441.0 209.0 L442.5 214.7 L445.6 219.4 L448.8 223.3 L449.5 231.9 L453.4 235.8 L454.2 238.0 L453.4 247.5 L451.9 258.4 L451.0 272.5 L449.5 288.0 L448.0 300.6 L447.2 311.6 L444.8 317.8 L441.2 325.6 L442.5 333.4 L445.6 341.2 L448.8 349.0 L449.5 356.9 L451.0 364.7 L450.5 367.0 L456.0 371.0 L456.2 378.8 L466.9 380.3 L473.9 386.6 L478.6 392.8 L479.0 404.5 L488.8 410.0 L493.4 417.0 L493.4 428.8 L498.0 433.4 L499.0 436.5 L504.4 433.0 L510.6 432.7 L516.9 435.0 L524.7 441.2 L532.5 450.6 L538.8 460.0 L543.4 469.4 L549.7 478.8 L560.6 491.2 L563.9 501.5 L571.7 509.3 L581.5 517.1 L589.3 522.0 L597.0 528.8 L606.9 538.6 L614.7 545.4 L624.5 553.2 L634.2 558.0 L644.0 562.0 L657.7 565.0 L669.4 567.9 L681.0 565.9 L692.8 564.0 L697.7 565.0 L698.7 558.1 L704.5 556.2 L712.3 558.1 L720.2 559.1 L728.0 562.0 L732.9 562.0 L740.7 554.2 L742.6 550.3 L749.5 547.4 L753.4 544.5 L759.0 544.0 L759.0 209.0 Z" fill="#dc9472"/>
<path d="M493.0 437.0 L496.5 437.0 L496.5 440.5 L493.0 440.5 Z" fill="#dc9472"/>
<path d="M759.0 838.0 L746.0 838.0 L749.0 833.0 L750.0 826.0 L753.0 824.0 L752.0 820.0 L754.0 818.0 L759.0 818.0 Z" fill="#dc9472"/>
</g>
<rect x="759" y="211" width="1" height="624" fill="#000"/>
<rect x="197" y="209" width="1" height="629" fill="#000"/>
<rect x="326" y="209" width="1" height="629" fill="#000"/>
<rect x="455" y="209" width="1" height="629" fill="#000"/>
<rect x="584" y="209" width="1" height="629" fill="#000"/>
<rect x="713" y="209" width="1" height="629" fill="#000"/>
<rect x="171" y="364" width="588" height="1" fill="#000"/>
<rect x="171" y="525" width="588" height="1" fill="#000"/>
<rect x="171" y="687" width="588" height="1" fill="#000"/>
<path d="M172.5 408.3 L502.0 210.3 L758.3 636.2 L428.6 835.0 Z" fill="none" stroke="#000" stroke-width="2" stroke-linejoin="miter" shape-rendering="crispEdges"/>
<path d="M289.5 471.5 L396.0 374.8 L590.8 590.4 L482.6 687.8 Z" fill="none" stroke="#000" stroke-width="1" shape-rendering="crispEdges"/>
<path d="M353.9 543.6 L460.9 446.7" fill="none" stroke="#000" stroke-width="1" shape-rendering="crispEdges"/>
<path d="M418.2 615.7 L525.9 518.5" fill="none" stroke="#000" stroke-width="1" shape-rendering="crispEdges"/>
<rect x="779" y="806.9" width="61" height="31.9" fill="#0000c3"/>
<rect x="779" y="775.5" width="61" height="31.9" fill="#001ee1"/>
<rect x="779" y="744.1" width="61" height="31.9" fill="#0055f5"/>
<rect x="779" y="712.7" width="61" height="31.9" fill="#0078fa"/>
<rect x="779" y="681.3" width="61" height="31.9" fill="#00a0fa"/>
<rect x="779" y="649.9" width="61" height="31.9" fill="#00bef5"/>
<rect x="779" y="618.5" width="61" height="31.9" fill="#00dcf5"/>
<rect x="779" y="587.1" width="61" height="31.9" fill="#00ffff"/>
<rect x="779" y="555.7" width="61" height="31.9" fill="#00f0c8"/>
<rect x="779" y="524.3" width="61" height="31.9" fill="#00eb96"/>
<rect x="779" y="492.9" width="61" height="31.9" fill="#00eb00"/>
<rect x="779" y="461.5" width="61" height="31.9" fill="#bfff5f"/>
<rect x="779" y="430.1" width="61" height="31.9" fill="#f0ff64"/>
<rect x="779" y="398.7" width="61" height="31.9" fill="#ffc300"/>
<rect x="779" y="367.3" width="61" height="31.9" fill="#ff9621"/>
<rect x="779" y="335.9" width="61" height="31.9" fill="#ff7941"/>
<rect x="779" y="304.5" width="61" height="31.9" fill="#ff3c0c"/>
<rect x="779" y="273.1" width="61" height="31.9" fill="#e60000"/>
<rect x="779" y="241.7" width="61" height="31.9" fill="#c30000"/>
<rect x="779" y="210.3" width="61" height="31.9" fill="#960000"/>
<rect x="779" y="209" width="61" height="628" fill="none" stroke="#000" stroke-width="2"/>
<path d="M249.81 116.45 L247.50 113.80 L240.60 113.80 L238.30 116.45 L238.30 119.82 L240.37 121.94 L247.73 123.71 L249.81 125.84 L249.81 128.84 L247.50 131.50 L240.60 131.50 L238.30 128.84 M262.05 131.50 L262.05 121.77 M262.05 118.76 L262.05 117.34 M285.81 121.77 L285.81 133.62 L283.50 135.75 L276.60 135.75 L274.30 133.98 M285.81 123.89 L283.50 121.77 L276.60 121.77 L274.30 123.89 L274.30 129.38 L276.60 131.50 L283.50 131.50 L285.81 129.38 M292.30 131.50 L292.30 121.77 M292.30 123.53 L293.68 121.77 L296.90 121.77 L298.05 123.53 L298.05 131.50 M298.05 123.53 L299.43 121.77 L302.65 121.77 L303.81 123.53 L303.81 131.50 M318.58 124.07 L316.63 121.77 L313.18 121.77 L310.88 124.42 L310.88 128.84 L313.18 131.50 L316.05 131.50 L318.58 129.38 L319.27 126.19 L318.58 124.07 L319.50 128.84 L321.81 131.85 M328.30 133.27 L339.81 133.27 M351.48 113.80 L351.48 129.73 L353.20 131.50 L356.08 131.50 L357.23 130.08 M347.45 121.77 L356.65 121.77 M364.30 131.50 L364.30 113.80 M364.30 123.89 L366.60 121.77 L373.50 121.77 L375.81 123.89 L375.81 131.50 M382.30 126.37 L393.81 126.37 L393.81 123.89 L391.50 121.77 L384.60 121.77 L382.30 123.89 L382.30 129.38 L384.60 131.50 L391.50 131.50 L393.81 129.73 M405.48 113.80 L405.48 129.73 L407.20 131.50 L410.08 131.50 L411.23 130.08 M401.45 121.77 L410.65 121.77 M426.58 124.07 L424.63 121.77 L421.18 121.77 L418.88 124.42 L418.88 128.84 L421.18 131.50 L424.05 131.50 L426.58 129.38 L427.27 126.19 L426.58 124.07 L427.50 128.84 L429.81 131.85 M436.99 120.53 L447.11 120.53 M436.99 125.13 L447.11 125.13 M454.30 116.99 L456.60 113.80 L463.50 113.80 L465.81 116.45 L465.81 120.53 L463.50 122.65 L456.03 127.61 L454.30 130.08 L454.30 131.50 L465.81 131.50 M483.23 113.80 L472.88 113.80 L472.88 121.77 L475.75 120.35 L480.93 120.35 L483.81 123.00 L483.81 128.84 L481.27 131.50 L474.60 131.50 L472.30 129.73 M495.48 131.50 L496.63 131.50 L496.63 129.73 L495.48 129.73 L495.48 131.50 M519.23 113.80 L508.88 113.80 L508.88 121.77 L511.75 120.35 L516.93 120.35 L519.81 123.00 L519.81 128.84 L517.27 131.50 L510.60 131.50 L508.30 129.73 M555.80 116.45 L553.50 113.80 L546.60 113.80 L544.30 116.45 L544.30 119.82 L546.37 121.94 L553.73 123.71 L555.80 125.84 L555.80 128.84 L553.50 131.50 L546.60 131.50 L544.30 128.84 M570.58 124.07 L568.63 121.77 L565.18 121.77 L562.88 124.42 L562.88 128.84 L565.18 131.50 L568.05 131.50 L570.58 129.38 L571.27 126.19 L570.58 124.07 L571.50 128.84 L573.80 131.85 M584.33 113.80 L584.33 130.08 L586.05 131.50 L586.63 131.50 M604.05 131.50 L604.05 121.77 M604.05 118.76 L604.05 117.34 M616.30 131.50 L616.30 121.77 M616.30 123.89 L618.60 121.77 L625.50 121.77 L627.80 123.89 L627.80 131.50 M640.05 131.50 L640.05 121.77 M640.05 118.76 L640.05 117.34 M657.48 113.80 L657.48 129.73 L659.20 131.50 L662.08 131.50 L663.23 130.08 M653.45 121.77 L662.65 121.77 M670.30 121.77 L676.05 131.50 M681.80 121.77 L676.05 131.50 L673.75 135.75 L672.60 135.75" fill="none" stroke="#000" stroke-width="1" stroke-linecap="square" shape-rendering="crispEdges"/>
<path d="M292.30 880.90 L289.67 879.49 L288.30 875.97 L288.30 868.23 L289.67 864.71 L292.30 863.30 L295.74 863.30 L298.37 864.71 L299.74 868.23 L299.74 875.97 L298.37 879.49 L295.74 880.90 L292.30 880.90 M288.30 881.43 L299.74 862.77 M311.45 878.44 L312.59 878.44 L312.59 877.20 L311.45 877.20 L311.45 878.44 M311.45 874.21 L312.59 874.21 L312.59 872.98 L311.45 872.98 L311.45 874.21 M328.30 880.90 L325.67 879.49 L324.30 875.97 L324.30 868.23 L325.67 864.71 L328.30 863.30 L331.74 863.30 L334.37 864.71 L335.74 868.23 L335.74 875.97 L334.37 879.49 L331.74 880.90 L328.30 880.90 M324.30 881.43 L335.74 862.77 M346.30 880.90 L343.67 879.49 L342.30 875.97 L342.30 868.23 L343.67 864.71 L346.30 863.30 L349.74 863.30 L352.37 864.71 L353.74 868.23 L353.74 875.97 L352.37 879.49 L349.74 880.90 L346.30 880.90 M342.30 881.43 L353.74 862.77 M365.45 878.44 L366.59 878.44 L366.59 877.20 L365.45 877.20 L365.45 878.44 M365.45 874.21 L366.59 874.21 L366.59 872.98 L365.45 872.98 L365.45 874.21 M382.30 880.90 L379.67 879.49 L378.30 875.97 L378.30 868.23 L379.67 864.71 L382.30 863.30 L385.74 863.30 L388.37 864.71 L389.74 868.23 L389.74 875.97 L388.37 879.49 L385.74 880.90 L382.30 880.90 M378.30 881.43 L389.74 862.77 M400.30 880.90 L397.67 879.49 L396.30 875.97 L396.30 868.23 L397.67 864.71 L400.30 863.30 L403.74 863.30 L406.37 864.71 L407.74 868.23 L407.74 875.97 L406.37 879.49 L403.74 880.90 L400.30 880.90 M396.30 881.43 L407.74 862.77 M414.30 863.30 L425.74 863.30 L414.30 880.90 L425.74 880.90 M468.30 866.47 L470.59 863.30 L477.45 863.30 L479.74 865.94 L479.74 869.99 L477.45 872.10 L470.02 877.03 L468.30 879.49 L468.30 880.90 L479.74 880.90 M497.74 869.99 L495.45 872.98 L488.59 872.98 L486.30 870.34 L486.30 865.94 L488.59 863.30 L495.45 863.30 L497.74 865.94 L497.74 870.34 L491.45 880.90 M522.30 880.90 L526.88 863.30 L529.16 863.30 L533.74 880.90 M523.90 874.56 L532.14 874.56 M540.30 871.22 L540.30 878.79 L542.59 880.90 L549.45 880.90 L551.74 878.79 M551.74 871.22 L551.74 880.90 M569.74 871.22 L569.74 883.01 L567.45 885.12 L560.59 885.12 L558.30 883.36 M569.74 873.33 L567.45 871.22 L560.59 871.22 L558.30 873.33 L558.30 878.79 L560.59 880.90 L567.45 880.90 L569.74 878.79 M594.30 866.47 L596.59 863.30 L603.45 863.30 L605.74 865.94 L605.74 869.99 L603.45 872.10 L596.02 877.03 L594.30 879.49 L594.30 880.90 L605.74 880.90 M616.30 880.90 L613.67 879.49 L612.30 875.97 L612.30 868.23 L613.67 864.71 L616.30 863.30 L619.74 863.30 L622.37 864.71 L623.74 868.23 L623.74 875.97 L622.37 879.49 L619.74 880.90 L616.30 880.90 M612.30 881.43 L623.74 862.77 M634.30 880.90 L631.67 879.49 L630.30 875.97 L630.30 868.23 L631.67 864.71 L634.30 863.30 L637.74 863.30 L640.37 864.71 L641.74 868.23 L641.74 875.97 L640.37 879.49 L637.74 880.90 L634.30 880.90 M630.30 881.43 L641.74 862.77 M658.02 863.30 L654.59 863.30 L651.16 866.82 L648.30 872.98 L648.30 878.26 L650.59 880.90 L657.45 880.90 L659.74 878.26 L659.74 873.51 L657.45 870.87 L651.16 870.87 L648.30 873.86" fill="none" stroke="#000" stroke-width="1" stroke-linecap="square" shape-rendering="crispEdges"/>
<path d="M850.50 233.59 L852.92 230.80 L859.93 230.80 L862.59 233.59 L862.59 237.12 L860.17 239.54 L855.58 239.54 M860.17 239.54 L862.59 241.96 L862.59 246.61 L859.93 249.40 L852.92 249.40 L850.50 246.80 M869.80 233.59 L872.22 230.80 L879.23 230.80 L881.89 233.59 L881.89 237.12 L879.47 239.54 L874.88 239.54 M879.47 239.54 L881.89 241.96 L881.89 246.61 L879.23 249.40 L872.22 249.40 L869.80 246.80 M894.54 249.40 L895.75 249.40 L895.75 247.54 L894.54 247.54 L894.54 249.40 M911.06 239.54 L909.00 237.31 L909.00 233.22 L911.06 230.80 L917.83 230.80 L919.89 233.22 L919.89 237.31 L917.83 239.54 L911.06 239.54 L908.40 241.96 L908.40 246.80 L910.82 249.40 L918.07 249.40 L920.49 246.80 L920.49 241.96 L917.83 239.54 M939.19 230.80 L928.30 230.80 L928.30 239.17 L931.33 237.68 L936.77 237.68 L939.79 240.47 L939.79 246.61 L937.13 249.40 L930.12 249.40 L927.70 247.54" fill="none" stroke="#000" stroke-width="1" stroke-linecap="square" shape-rendering="crispEdges"/>
<path d="M850.50 264.99 L852.92 262.20 L859.93 262.20 L862.59 264.99 L862.59 268.52 L860.17 270.94 L855.58 270.94 M860.17 270.94 L862.59 273.36 L862.59 278.01 L859.93 280.80 L852.92 280.80 L850.50 278.20 M869.80 264.99 L872.22 262.20 L879.23 262.20 L881.89 264.99 L881.89 268.52 L879.47 270.94 L874.88 270.94 M879.47 270.94 L881.89 273.36 L881.89 278.01 L879.23 280.80 L872.22 280.80 L869.80 278.20 M894.54 280.80 L895.75 280.80 L895.75 278.94 L894.54 278.94 L894.54 280.80 M911.06 270.94 L909.00 268.71 L909.00 264.62 L911.06 262.20 L917.83 262.20 L919.89 264.62 L919.89 268.71 L917.83 270.94 L911.06 270.94 L908.40 273.36 L908.40 278.20 L910.82 280.80 L918.07 280.80 L920.49 278.20 L920.49 273.36 L917.83 270.94 M927.70 264.99 L930.12 262.20 L937.13 262.20 L939.79 264.99 L939.79 268.52 L937.37 270.94 L932.78 270.94 M937.37 270.94 L939.79 273.36 L939.79 278.01 L937.13 280.80 L930.12 280.80 L927.70 278.20" fill="none" stroke="#000" stroke-width="1" stroke-linecap="square" shape-rendering="crispEdges"/>
<path d="M850.50 296.39 L852.92 293.60 L859.93 293.60 L862.59 296.39 L862.59 299.92 L860.17 302.34 L855.58 302.34 M860.17 302.34 L862.59 304.76 L862.59 309.41 L859.93 312.20 L852.92 312.20 L850.50 309.60 M869.80 296.39 L872.22 293.60 L879.23 293.60 L881.89 296.39 L881.89 299.92 L879.47 302.34 L874.88 302.34 M879.47 302.34 L881.89 304.76 L881.89 309.41 L879.23 312.20 L872.22 312.20 L869.80 309.60 M894.54 312.20 L895.75 312.20 L895.75 310.34 L894.54 310.34 L894.54 312.20 M911.06 302.34 L909.00 300.11 L909.00 296.02 L911.06 293.60 L917.83 293.60 L919.89 296.02 L919.89 300.11 L917.83 302.34 L911.06 302.34 L908.40 304.76 L908.40 309.60 L910.82 312.20 L918.07 312.20 L920.49 309.60 L920.49 304.76 L917.83 302.34 M929.51 297.69 L934.95 293.60 L934.95 312.20" fill="none" stroke="#000" stroke-width="1" stroke-linecap="square" shape-rendering="crispEdges"/>
<path d="M850.50 327.79 L852.92 325.00 L859.93 325.00 L862.59 327.79 L862.59 331.32 L860.17 333.74 L855.58 333.74 M860.17 333.74 L862.59 336.16 L862.59 340.81 L859.93 343.60 L852.92 343.60 L850.50 341.00 M869.80 327.79 L872.22 325.00 L879.23 325.00 L881.89 327.79 L881.89 331.32 L879.47 333.74 L874.88 333.74 M879.47 333.74 L881.89 336.16 L881.89 340.81 L879.23 343.60 L872.22 343.60 L869.80 341.00 M894.54 343.60 L895.75 343.60 L895.75 341.74 L894.54 341.74 L894.54 343.60 M908.40 325.00 L920.49 325.00 L912.63 343.60 M939.79 332.07 L937.37 335.23 L930.12 335.23 L927.70 332.44 L927.70 327.79 L930.12 325.00 L937.37 325.00 L939.79 327.79 L939.79 332.44 L933.14 343.60" fill="none" stroke="#000" stroke-width="1" stroke-linecap="square" shape-rendering="crispEdges"/>
<path d="M850.50 359.19 L852.92 356.40 L859.93 356.40 L862.59 359.19 L862.59 362.72 L860.17 365.14 L855.58 365.14 M860.17 365.14 L862.59 367.56 L862.59 372.21 L859.93 375.00 L852.92 375.00 L850.50 372.40 M869.80 359.19 L872.22 356.40 L879.23 356.40 L881.89 359.19 L881.89 362.72 L879.47 365.14 L874.88 365.14 M879.47 365.14 L881.89 367.56 L881.89 372.21 L879.23 375.00 L872.22 375.00 L869.80 372.40 M894.54 375.00 L895.75 375.00 L895.75 373.14 L894.54 373.14 L894.54 375.00 M908.40 356.40 L920.49 356.40 L912.63 375.00 M930.36 365.14 L928.30 362.91 L928.30 358.82 L930.36 356.40 L937.13 356.40 L939.19 358.82 L939.19 362.91 L937.13 365.14 L930.36 365.14 L927.70 367.56 L927.70 372.40 L930.12 375.00 L937.37 375.00 L939.79 372.40 L939.79 367.56 L937.13 365.14" fill="none" stroke="#000" stroke-width="1" stroke-linecap="square" shape-rendering="crispEdges"/>
<path d="M850.50 390.59 L852.92 387.80 L859.93 387.80 L862.59 390.59 L862.59 394.12 L860.17 396.54 L855.58 396.54 M860.17 396.54 L862.59 398.96 L862.59 403.61 L859.93 406.40 L852.92 406.40 L850.50 403.80 M869.80 390.59 L872.22 387.80 L879.23 387.80 L881.89 390.59 L881.89 394.12 L879.47 396.54 L874.88 396.54 M879.47 396.54 L881.89 398.96 L881.89 403.61 L879.23 406.40 L872.22 406.40 L869.80 403.80 M894.54 406.40 L895.75 406.40 L895.75 404.54 L894.54 404.54 L894.54 406.40 M908.40 387.80 L920.49 387.80 L912.63 406.40 M937.98 387.80 L934.35 387.80 L930.72 391.52 L927.70 398.03 L927.70 403.61 L930.12 406.40 L937.37 406.40 L939.79 403.61 L939.79 398.59 L937.37 395.80 L930.72 395.80 L927.70 398.96" fill="none" stroke="#000" stroke-width="1" stroke-linecap="square" shape-rendering="crispEdges"/>
<path d="M850.50 421.99 L852.92 419.20 L859.93 419.20 L862.59 421.99 L862.59 425.52 L860.17 427.94 L855.58 427.94 M860.17 427.94 L862.59 430.36 L862.59 435.01 L859.93 437.80 L852.92 437.80 L850.50 435.20 M869.80 421.99 L872.22 419.20 L879.23 419.20 L881.89 421.99 L881.89 425.52 L879.47 427.94 L874.88 427.94 M879.47 427.94 L881.89 430.36 L881.89 435.01 L879.23 437.80 L872.22 437.80 L869.80 435.20 M894.54 437.80 L895.75 437.80 L895.75 435.94 L894.54 435.94 L894.54 437.80 M908.40 419.20 L920.49 419.20 L912.63 437.80 M937.13 437.80 L937.13 419.20 L927.70 432.22 L939.79 432.22" fill="none" stroke="#000" stroke-width="1" stroke-linecap="square" shape-rendering="crispEdges"/>
<path d="M850.50 453.39 L852.92 450.60 L859.93 450.60 L862.59 453.39 L862.59 456.92 L860.17 459.34 L855.58 459.34 M860.17 459.34 L862.59 461.76 L862.59 466.41 L859.93 469.20 L852.92 469.20 L850.50 466.60 M869.80 453.39 L872.22 450.60 L879.23 450.60 L881.89 453.39 L881.89 456.92 L879.47 459.34 L874.88 459.34 M879.47 459.34 L881.89 461.76 L881.89 466.41 L879.23 469.20 L872.22 469.20 L869.80 466.60 M894.54 469.20 L895.75 469.20 L895.75 467.34 L894.54 467.34 L894.54 469.20 M908.40 450.60 L920.49 450.60 L912.63 469.20 M927.70 453.95 L930.12 450.60 L937.37 450.60 L939.79 453.39 L939.79 457.67 L937.37 459.90 L929.51 465.11 L927.70 467.71 L927.70 469.20 L939.79 469.20" fill="none" stroke="#000" stroke-width="1" stroke-linecap="square" shape-rendering="crispEdges"/>
<path d="M850.50 484.79 L852.92 482.00 L859.93 482.00 L862.59 484.79 L862.59 488.32 L860.17 490.74 L855.58 490.74 M860.17 490.74 L862.59 493.16 L862.59 497.81 L859.93 500.60 L852.92 500.60 L850.50 498.00 M869.80 484.79 L872.22 482.00 L879.23 482.00 L881.89 484.79 L881.89 488.32 L879.47 490.74 L874.88 490.74 M879.47 490.74 L881.89 493.16 L881.89 497.81 L879.23 500.60 L872.22 500.60 L869.80 498.00 M894.54 500.60 L895.75 500.60 L895.75 498.74 L894.54 498.74 L894.54 500.60 M908.40 482.00 L920.49 482.00 L912.63 500.60 M931.93 500.60 L929.15 499.11 L927.70 495.39 L927.70 487.21 L929.15 483.49 L931.93 482.00 L935.56 482.00 L938.34 483.49 L939.79 487.21 L939.79 495.39 L938.34 499.11 L935.56 500.60 L931.93 500.60 M927.70 501.16 L939.79 481.44" fill="none" stroke="#000" stroke-width="1" stroke-linecap="square" shape-rendering="crispEdges"/>
<path d="M850.50 516.19 L852.92 513.40 L859.93 513.40 L862.59 516.19 L862.59 519.72 L860.17 522.14 L855.58 522.14 M860.17 522.14 L862.59 524.56 L862.59 529.21 L859.93 532.00 L852.92 532.00 L850.50 529.40 M869.80 516.19 L872.22 513.40 L879.23 513.40 L881.89 516.19 L881.89 519.72 L879.47 522.14 L874.88 522.14 M879.47 522.14 L881.89 524.56 L881.89 529.21 L879.23 532.00 L872.22 532.00 L869.80 529.40 M894.54 532.00 L895.75 532.00 L895.75 530.14 L894.54 530.14 L894.54 532.00 M918.68 513.40 L915.05 513.40 L911.42 517.12 L908.40 523.63 L908.40 529.21 L910.82 532.00 L918.07 532.00 L920.49 529.21 L920.49 524.19 L918.07 521.40 L911.42 521.40 L908.40 524.56 M930.36 522.14 L928.30 519.91 L928.30 515.82 L930.36 513.40 L937.13 513.40 L939.19 515.82 L939.19 519.91 L937.13 522.14 L930.36 522.14 L927.70 524.56 L927.70 529.40 L930.12 532.00 L937.37 532.00 L939.79 529.40 L939.79 524.56 L937.13 522.14" fill="none" stroke="#000" stroke-width="1" stroke-linecap="square" shape-rendering="crispEdges"/>
<path d="M850.50 547.59 L852.92 544.80 L859.93 544.80 L862.59 547.59 L862.59 551.12 L860.17 553.54 L855.58 553.54 M860.17 553.54 L862.59 555.96 L862.59 560.61 L859.93 563.40 L852.92 563.40 L850.50 560.80 M869.80 547.59 L872.22 544.80 L879.23 544.80 L881.89 547.59 L881.89 551.12 L879.47 553.54 L874.88 553.54 M879.47 553.54 L881.89 555.96 L881.89 560.61 L879.23 563.40 L872.22 563.40 L869.80 560.80 M894.54 563.40 L895.75 563.40 L895.75 561.54 L894.54 561.54 L894.54 563.40 M918.68 544.80 L915.05 544.80 L911.42 548.52 L908.40 555.03 L908.40 560.61 L910.82 563.40 L918.07 563.40 L920.49 560.61 L920.49 555.59 L918.07 552.80 L911.42 552.80 L908.40 555.96 M937.98 544.80 L934.35 544.80 L930.72 548.52 L927.70 555.03 L927.70 560.61 L930.12 563.40 L937.37 563.40 L939.79 560.61 L939.79 555.59 L937.37 552.80 L930.72 552.80 L927.70 555.96" fill="none" stroke="#000" stroke-width="1" stroke-linecap="square" shape-rendering="crispEdges"/>
<path d="M850.50 578.99 L852.92 576.20 L859.93 576.20 L862.59 578.99 L862.59 582.52 L860.17 584.94 L855.58 584.94 M860.17 584.94 L862.59 587.36 L862.59 592.01 L859.93 594.80 L852.92 594.80 L850.50 592.20 M869.80 578.99 L872.22 576.20 L879.23 576.20 L881.89 578.99 L881.89 582.52 L879.47 584.94 L874.88 584.94 M879.47 584.94 L881.89 587.36 L881.89 592.01 L879.23 594.80 L872.22 594.80 L869.80 592.20 M894.54 594.80 L895.75 594.80 L895.75 592.94 L894.54 592.94 L894.54 594.80 M918.68 576.20 L915.05 576.20 L911.42 579.92 L908.40 586.43 L908.40 592.01 L910.82 594.80 L918.07 594.80 L920.49 592.01 L920.49 586.99 L918.07 584.20 L911.42 584.20 L908.40 587.36 M937.13 594.80 L937.13 576.20 L927.70 589.22 L939.79 589.22" fill="none" stroke="#000" stroke-width="1" stroke-linecap="square" shape-rendering="crispEdges"/>
<path d="M850.50 610.39 L852.92 607.60 L859.93 607.60 L862.59 610.39 L862.59 613.92 L860.17 616.34 L855.58 616.34 M860.17 616.34 L862.59 618.76 L862.59 623.41 L859.93 626.20 L852.92 626.20 L850.50 623.60 M869.80 610.39 L872.22 607.60 L879.23 607.60 L881.89 610.39 L881.89 613.92 L879.47 616.34 L874.88 616.34 M879.47 616.34 L881.89 618.76 L881.89 623.41 L879.23 626.20 L872.22 626.20 L869.80 623.60 M894.54 626.20 L895.75 626.20 L895.75 624.34 L894.54 624.34 L894.54 626.20 M918.68 607.60 L915.05 607.60 L911.42 611.32 L908.40 617.83 L908.40 623.41 L910.82 626.20 L918.07 626.20 L920.49 623.41 L920.49 618.39 L918.07 615.60 L911.42 615.60 L908.40 618.76 M927.70 610.95 L930.12 607.60 L937.37 607.60 L939.79 610.39 L939.79 614.67 L937.37 616.90 L929.51 622.11 L927.70 624.71 L927.70 626.20 L939.79 626.20" fill="none" stroke="#000" stroke-width="1" stroke-linecap="square" shape-rendering="crispEdges"/>
<path d="M850.50 641.79 L852.92 639.00 L859.93 639.00 L862.59 641.79 L862.59 645.32 L860.17 647.74 L855.58 647.74 M860.17 647.74 L862.59 650.16 L862.59 654.81 L859.93 657.60 L852.92 657.60 L850.50 655.00 M869.80 641.79 L872.22 639.00 L879.23 639.00 L881.89 641.79 L881.89 645.32 L879.47 647.74 L874.88 647.74 M879.47 647.74 L881.89 650.16 L881.89 654.81 L879.23 657.60 L872.22 657.60 L869.80 655.00 M894.54 657.60 L895.75 657.60 L895.75 655.74 L894.54 655.74 L894.54 657.60 M918.68 639.00 L915.05 639.00 L911.42 642.72 L908.40 649.23 L908.40 654.81 L910.82 657.60 L918.07 657.60 L920.49 654.81 L920.49 649.79 L918.07 647.00 L911.42 647.00 L908.40 650.16 M931.93 657.60 L929.15 656.11 L927.70 652.39 L927.70 644.21 L929.15 640.49 L931.93 639.00 L935.56 639.00 L938.34 640.49 L939.79 644.21 L939.79 652.39 L938.34 656.11 L935.56 657.60 L931.93 657.60 M927.70 658.16 L939.79 638.44" fill="none" stroke="#000" stroke-width="1" stroke-linecap="square" shape-rendering="crispEdges"/>
<path d="M850.50 673.19 L852.92 670.40 L859.93 670.40 L862.59 673.19 L862.59 676.72 L860.17 679.14 L855.58 679.14 M860.17 679.14 L862.59 681.56 L862.59 686.21 L859.93 689.00 L852.92 689.00 L850.50 686.40 M869.80 673.19 L872.22 670.40 L879.23 670.40 L881.89 673.19 L881.89 676.72 L879.47 679.14 L874.88 679.14 M879.47 679.14 L881.89 681.56 L881.89 686.21 L879.23 689.00 L872.22 689.00 L869.80 686.40 M894.54 689.00 L895.75 689.00 L895.75 687.14 L894.54 687.14 L894.54 689.00 M919.89 670.40 L909.00 670.40 L909.00 678.77 L912.03 677.28 L917.47 677.28 L920.49 680.07 L920.49 686.21 L917.83 689.00 L910.82 689.00 L908.40 687.14 M939.79 677.47 L937.37 680.63 L930.12 680.63 L927.70 677.84 L927.70 673.19 L930.12 670.40 L937.37 670.40 L939.79 673.19 L939.79 677.84 L933.14 689.00" fill="none" stroke="#000" stroke-width="1" stroke-linecap="square" shape-rendering="crispEdges"/>
<path d="M850.50 704.59 L852.92 701.80 L859.93 701.80 L862.59 704.59 L862.59 708.12 L860.17 710.54 L855.58 710.54 M860.17 710.54 L862.59 712.96 L862.59 717.61 L859.93 720.40 L852.92 720.40 L850.50 717.80 M869.80 704.59 L872.22 701.80 L879.23 701.80 L881.89 704.59 L881.89 708.12 L879.47 710.54 L874.88 710.54 M879.47 710.54 L881.89 712.96 L881.89 717.61 L879.23 720.40 L872.22 720.40 L869.80 717.80 M894.54 720.40 L895.75 720.40 L895.75 718.54 L894.54 718.54 L894.54 720.40 M919.89 701.80 L909.00 701.80 L909.00 710.17 L912.03 708.68 L917.47 708.68 L920.49 711.47 L920.49 717.61 L917.83 720.40 L910.82 720.40 L908.40 718.54 M927.70 701.80 L939.79 701.80 L931.93 720.40" fill="none" stroke="#000" stroke-width="1" stroke-linecap="square" shape-rendering="crispEdges"/>
<path d="M850.50 735.99 L852.92 733.20 L859.93 733.20 L862.59 735.99 L862.59 739.52 L860.17 741.94 L855.58 741.94 M860.17 741.94 L862.59 744.36 L862.59 749.01 L859.93 751.80 L852.92 751.80 L850.50 749.20 M869.80 735.99 L872.22 733.20 L879.23 733.20 L881.89 735.99 L881.89 739.52 L879.47 741.94 L874.88 741.94 M879.47 741.94 L881.89 744.36 L881.89 749.01 L879.23 751.80 L872.22 751.80 L869.80 749.20 M894.54 751.80 L895.75 751.80 L895.75 749.94 L894.54 749.94 L894.54 751.80 M919.89 733.20 L909.00 733.20 L909.00 741.57 L912.03 740.08 L917.47 740.08 L920.49 742.87 L920.49 749.01 L917.83 751.80 L910.82 751.80 L908.40 749.94 M939.19 733.20 L928.30 733.20 L928.30 741.57 L931.33 740.08 L936.77 740.08 L939.79 742.87 L939.79 749.01 L937.13 751.80 L930.12 751.80 L927.70 749.94" fill="none" stroke="#000" stroke-width="1" stroke-linecap="square" shape-rendering="crispEdges"/>
<path d="M850.50 767.39 L852.92 764.60 L859.93 764.60 L862.59 767.39 L862.59 770.92 L860.17 773.34 L855.58 773.34 M860.17 773.34 L862.59 775.76 L862.59 780.41 L859.93 783.20 L852.92 783.20 L850.50 780.60 M869.80 767.39 L872.22 764.60 L879.23 764.60 L881.89 767.39 L881.89 770.92 L879.47 773.34 L874.88 773.34 M879.47 773.34 L881.89 775.76 L881.89 780.41 L879.23 783.20 L872.22 783.20 L869.80 780.60 M894.54 783.20 L895.75 783.20 L895.75 781.34 L894.54 781.34 L894.54 783.20 M919.89 764.60 L909.00 764.60 L909.00 772.97 L912.03 771.48 L917.47 771.48 L920.49 774.27 L920.49 780.41 L917.83 783.20 L910.82 783.20 L908.40 781.34 M927.70 767.39 L930.12 764.60 L937.13 764.60 L939.79 767.39 L939.79 770.92 L937.37 773.34 L932.78 773.34 M937.37 773.34 L939.79 775.76 L939.79 780.41 L937.13 783.20 L930.12 783.20 L927.70 780.60" fill="none" stroke="#000" stroke-width="1" stroke-linecap="square" shape-rendering="crispEdges"/>
<path d="M850.50 798.79 L852.92 796.00 L859.93 796.00 L862.59 798.79 L862.59 802.32 L860.17 804.74 L855.58 804.74 M860.17 804.74 L862.59 807.16 L862.59 811.81 L859.93 814.60 L852.92 814.60 L850.50 812.00 M869.80 798.79 L872.22 796.00 L879.23 796.00 L881.89 798.79 L881.89 802.32 L879.47 804.74 L874.88 804.74 M879.47 804.74 L881.89 807.16 L881.89 811.81 L879.23 814.60 L872.22 814.60 L869.80 812.00 M894.54 814.60 L895.75 814.60 L895.75 812.74 L894.54 812.74 L894.54 814.60 M919.89 796.00 L909.00 796.00 L909.00 804.37 L912.03 802.88 L917.47 802.88 L920.49 805.67 L920.49 811.81 L917.83 814.60 L910.82 814.60 L908.40 812.74 M929.51 800.09 L934.95 796.00 L934.95 814.60" fill="none" stroke="#000" stroke-width="1" stroke-linecap="square" shape-rendering="crispEdges"/>
<path d="M150.90 190.01 L154.50 187.30 L154.50 199.60 M162.30 189.51 L163.90 187.30 L168.70 187.30 L170.30 189.14 L170.30 191.97 L168.70 193.45 L163.50 196.89 L162.30 198.62 L162.30 199.60 L170.30 199.60 M174.90 189.51 L176.50 187.30 L181.30 187.30 L182.90 189.14 L182.90 191.97 L181.30 193.45 L176.10 196.89 L174.90 198.62 L174.90 199.60 L182.90 199.60 M206.34 199.60 L206.34 187.30 L200.10 195.91 L208.10 195.91 M214.46 193.08 L213.10 191.60 L213.10 188.90 L214.46 187.30 L218.94 187.30 L220.30 188.90 L220.30 191.60 L218.94 193.08 L214.46 193.08 L212.70 194.68 L212.70 197.88 L214.30 199.60 L219.10 199.60 L220.70 197.88 L220.70 194.68 L218.94 193.08 M229.30 187.30 L228.66 189.76 M228.90 187.30 L229.70 187.30 M237.90 187.30 L239.50 199.60 L241.90 191.97 L244.30 199.60 L245.90 187.30" fill="none" stroke="#000" stroke-width="1" stroke-linecap="square" shape-rendering="crispEdges"/>
<path d="M279.90 190.01 L283.50 187.30 L283.50 199.60 M291.30 189.51 L292.90 187.30 L297.70 187.30 L299.30 189.14 L299.30 191.97 L297.70 193.45 L292.50 196.89 L291.30 198.62 L291.30 199.60 L299.30 199.60 M303.90 189.51 L305.50 187.30 L310.30 187.30 L311.90 189.14 L311.90 191.97 L310.30 193.45 L305.10 196.89 L303.90 198.62 L303.90 199.60 L311.90 199.60 M329.10 189.14 L330.70 187.30 L335.34 187.30 L337.10 189.14 L337.10 191.48 L335.50 193.08 L332.46 193.08 M335.50 193.08 L337.10 194.68 L337.10 197.75 L335.34 199.60 L330.70 199.60 L329.10 197.88 M348.50 187.30 L346.10 187.30 L343.70 189.76 L341.70 194.06 L341.70 197.75 L343.30 199.60 L348.10 199.60 L349.70 197.75 L349.70 194.43 L348.10 192.59 L343.70 192.59 L341.70 194.68 M358.30 187.30 L357.66 189.76 M357.90 187.30 L358.70 187.30 M366.90 187.30 L368.50 199.60 L370.90 191.97 L373.30 199.60 L374.90 187.30" fill="none" stroke="#000" stroke-width="1" stroke-linecap="square" shape-rendering="crispEdges"/>
<path d="M408.90 190.01 L412.50 187.30 L412.50 199.60 M420.30 189.51 L421.90 187.30 L426.70 187.30 L428.30 189.14 L428.30 191.97 L426.70 193.45 L421.50 196.89 L420.30 198.62 L420.30 199.60 L428.30 199.60 M432.90 189.51 L434.50 187.30 L439.30 187.30 L440.90 189.14 L440.90 191.97 L439.30 193.45 L434.10 196.89 L432.90 198.62 L432.90 199.60 L440.90 199.60 M458.10 189.51 L459.70 187.30 L464.50 187.30 L466.10 189.14 L466.10 191.97 L464.50 193.45 L459.30 196.89 L458.10 198.62 L458.10 199.60 L466.10 199.60 M476.94 199.60 L476.94 187.30 L470.70 195.91 L478.70 195.91 M487.30 187.30 L486.66 189.76 M486.90 187.30 L487.70 187.30 M495.90 187.30 L497.50 199.60 L499.90 191.97 L502.30 199.60 L503.90 187.30" fill="none" stroke="#000" stroke-width="1" stroke-linecap="square" shape-rendering="crispEdges"/>
<path d="M537.90 190.01 L541.50 187.30 L541.50 199.60 M549.30 189.51 L550.90 187.30 L555.70 187.30 L557.30 189.14 L557.30 191.97 L555.70 193.45 L550.50 196.89 L549.30 198.62 L549.30 199.60 L557.30 199.60 M561.90 189.51 L563.50 187.30 L568.30 187.30 L569.90 189.14 L569.90 191.97 L568.30 193.45 L563.10 196.89 L561.90 198.62 L561.90 199.60 L569.90 199.60 M588.30 190.01 L591.90 187.30 L591.90 199.60 M599.70 189.51 L601.30 187.30 L606.10 187.30 L607.70 189.14 L607.70 191.97 L606.10 193.45 L600.90 196.89 L599.70 198.62 L599.70 199.60 L607.70 199.60 M616.30 187.30 L615.66 189.76 M615.90 187.30 L616.70 187.30 M624.90 187.30 L626.50 199.60 L628.90 191.97 L631.30 199.60 L632.90 187.30" fill="none" stroke="#000" stroke-width="1" stroke-linecap="square" shape-rendering="crispEdges"/>
<path d="M692.10 190.01 L695.70 187.30 L695.70 199.60 M703.50 189.51 L705.10 187.30 L709.90 187.30 L711.50 189.14 L711.50 191.97 L709.90 193.45 L704.70 196.89 L703.50 198.62 L703.50 199.60 L711.50 199.60 M716.10 189.51 L717.70 187.30 L722.50 187.30 L724.10 189.14 L724.10 191.97 L722.50 193.45 L717.30 196.89 L716.10 198.62 L716.10 199.60 L724.10 199.60 M728.70 187.30 L730.30 199.60 L732.70 191.97 L735.10 199.60 L736.70 187.30" fill="none" stroke="#000" stroke-width="1" stroke-linecap="square" shape-rendering="crispEdges"/>
<path d="M75.10 360.15 L76.70 358.30 L81.34 358.30 L83.10 360.15 L83.10 362.48 L81.50 364.08 L78.46 364.08 M81.50 364.08 L83.10 365.68 L83.10 368.75 L81.34 370.60 L76.70 370.60 L75.10 368.88 M87.70 358.30 L95.70 358.30 L90.50 370.60 M114.10 361.01 L117.70 358.30 L117.70 370.60 M125.50 360.51 L127.10 358.30 L131.90 358.30 L133.50 360.15 L133.50 362.97 L131.90 364.45 L126.70 367.89 L125.50 369.62 L125.50 370.60 L133.50 370.60 M142.10 358.30 L141.46 360.76 M141.70 358.30 L142.50 358.30 M150.70 370.60 L150.70 358.30 L158.70 370.60 L158.70 358.30" fill="none" stroke="#000" stroke-width="1" stroke-linecap="square" shape-rendering="crispEdges"/>
<path d="M125.50 521.14 L127.10 519.30 L131.74 519.30 L133.50 521.14 L133.50 523.48 L131.90 525.08 L128.86 525.08 M131.90 525.08 L133.50 526.68 L133.50 529.75 L131.74 531.60 L127.10 531.60 L125.50 529.88 M138.10 519.30 L146.10 519.30 L140.90 531.60 M150.70 531.60 L150.70 519.30 L158.70 531.60 L158.70 519.30" fill="none" stroke="#000" stroke-width="1" stroke-linecap="square" shape-rendering="crispEdges"/>
<path d="M75.10 683.14 L76.70 681.30 L81.34 681.30 L83.10 683.14 L83.10 685.48 L81.50 687.08 L78.46 687.08 M81.50 687.08 L83.10 688.68 L83.10 691.75 L81.34 693.60 L76.70 693.60 L75.10 691.88 M94.50 681.30 L92.10 681.30 L89.70 683.76 L87.70 688.07 L87.70 691.75 L89.30 693.60 L94.10 693.60 L95.70 691.75 L95.70 688.43 L94.10 686.59 L89.70 686.59 L87.70 688.68 M119.14 693.60 L119.14 681.30 L112.90 689.91 L120.90 689.91 M127.26 687.08 L125.90 685.61 L125.90 682.90 L127.26 681.30 L131.74 681.30 L133.10 682.90 L133.10 685.61 L131.74 687.08 L127.26 687.08 L125.50 688.68 L125.50 691.88 L127.10 693.60 L131.90 693.60 L133.50 691.88 L133.50 688.68 L131.74 687.08 M142.10 681.30 L141.46 683.76 M141.70 681.30 L142.50 681.30 M150.70 693.60 L150.70 681.30 L158.70 693.60 L158.70 681.30" fill="none" stroke="#000" stroke-width="1" stroke-linecap="square" shape-rendering="crispEdges"/>
</svg></body></html>
